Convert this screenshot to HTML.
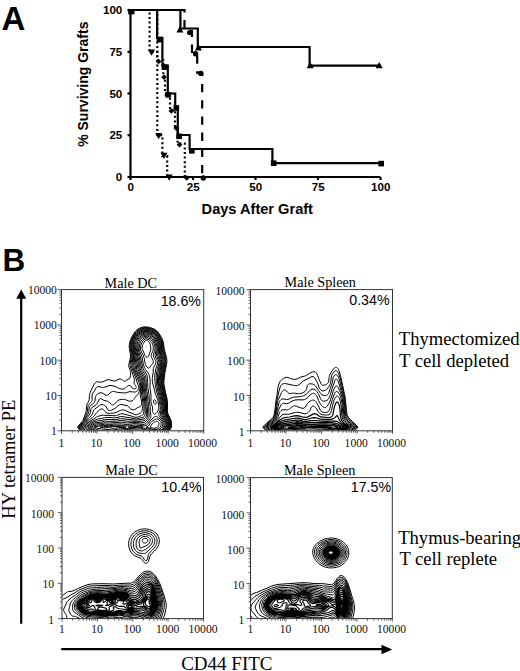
<!DOCTYPE html>
<html><head><meta charset="utf-8"><style>
html,body{margin:0;padding:0;background:#fff;}
svg{display:block;}
</style></head><body>
<svg width="520" height="671" viewBox="0 0 520 671">
<rect width="520" height="671" fill="#fff"/>
<g stroke="#000" stroke-width="2.2" fill="none">
<path d="M130.5 9.0V177.0H380.5"/>
<path d="M127.5 177.0H130.5"/>
<path d="M127.5 135.2H130.5"/>
<path d="M127.5 93.5H130.5"/>
<path d="M127.5 51.8H130.5"/>
<path d="M127.5 10.0H130.5"/>
<path d="M130.5 177.0V180.0"/>
<path d="M193.0 177.0V180.0"/>
<path d="M255.5 177.0V180.0"/>
<path d="M318.0 177.0V180.0"/>
<path d="M380.5 177.0V180.0"/>
</g>
<path d="M130.5 10.0H157.1V37.8H162.4V65.7H167.8V93.5H175.2V106.8H177.8V135.0H189.6V149.0H272.4V163.1H380.5" stroke="#000" stroke-width="2.2" fill="none"/>
<path d="M130.5 10.0H180.4V28.5H197.8V47.0H309.6V65.7H380.5" stroke="#000" stroke-width="2.2" fill="none"/>
<path d="M130.5 10.0H149.6V51.8H157.3V135.2H162.4V156.1H167.2V177.0" stroke="#000" stroke-width="2.2" fill="none" stroke-dasharray="2 2.6" stroke-dashoffset="1.5"/>
<path d="M130.5 10.0H157.3V60.1H163.3V76.8H165.0V93.5H170.0V110.2H175.0V126.9H177.6V143.6H184.8V177.0" stroke="#000" stroke-width="2.2" fill="none" stroke-dasharray="2 2.6" stroke-dashoffset="1.5"/>
<path d="M130.5 10.0H184.5V30.9H192.0V51.8H197.2V72.6H202.2" stroke="#000" stroke-width="2.2" fill="none" stroke-dasharray="8.5 7.5"/>
<path d="M202.2 72.6V177" stroke="#000" stroke-width="2.2" fill="none" stroke-dasharray="8.3 7.9" stroke-dashoffset="4.8"/>
<g fill="#000">
<rect x="128.2" y="9.2" width="6.2" height="5.2"/>
<rect x="156.7" y="36.8" width="5.6" height="5.6"/>
<rect x="161.7" y="64.3" width="5.6" height="5.6"/>
<rect x="165.5" y="92.0" width="5.6" height="5.6"/>
<rect x="173.5" y="105.2" width="5.6" height="5.6"/>
<rect x="176.3" y="133.5" width="5.6" height="5.6"/>
<rect x="189.0" y="148.0" width="5.6" height="5.6"/>
<rect x="270.9" y="160.4" width="5.6" height="5.6"/>
<rect x="378.4" y="160.8" width="5.6" height="5.6"/>
<path d="M179.9 26.1L183.4 32.4L176.4 32.4Z"/>
<path d="M198.4 44.1L201.9 50.4L194.9 50.4Z"/>
<path d="M310.2 61.9L313.7 68.2L306.7 68.2Z"/>
<path d="M379.2 61.9L382.7 68.2L375.7 68.2Z"/>
<path d="M151.5 55.8L155.0 49.5L148.0 49.5Z"/>
<path d="M158.7 139.3L162.2 133.0L155.2 133.0Z"/>
<path d="M164.0 159.1L167.5 152.8L160.5 152.8Z"/>
<path d="M169.2 180.8L172.7 174.4L165.7 174.4Z"/>
<path d="M158.6 58.7L161.4 61.5L158.6 64.3L155.8 61.5Z"/>
<path d="M164.0 74.4L166.8 77.2L164.0 80.0L161.2 77.2Z"/>
<path d="M167.0 92.2L169.8 95.0L167.0 97.8L164.2 95.0Z"/>
<path d="M171.3 108.2L174.1 111.0L171.3 113.8L168.5 111.0Z"/>
<path d="M176.3 125.5L179.1 128.3L176.3 131.1L173.5 128.3Z"/>
<path d="M179.5 141.9L182.3 144.7L179.5 147.5L176.7 144.7Z"/>
<path d="M186.7 175.2L189.5 178.0L186.7 180.8L183.9 178.0Z"/>
<circle cx="189.7" cy="32.6" r="2.7"/>
<circle cx="195.6" cy="53.7" r="2.7"/>
<circle cx="200.8" cy="73.4" r="2.7"/>
<circle cx="203.3" cy="178.0" r="2.7"/>
</g>
<g font-family="Liberation Sans, sans-serif" font-weight="bold" fill="#000">
<text x="1.5" y="29.6" font-size="33">A</text>
<text x="122.3" y="14.1" font-size="11.6" text-anchor="end">100</text>
<text x="122.3" y="55.9" font-size="11.6" text-anchor="end">75</text>
<text x="122.3" y="97.6" font-size="11.6" text-anchor="end">50</text>
<text x="122.3" y="139.3" font-size="11.6" text-anchor="end">25</text>
<text x="122.3" y="181.1" font-size="11.6" text-anchor="end">0</text>
<text x="130.7" y="191.2" font-size="11.6" text-anchor="middle">0</text>
<text x="193.2" y="191.2" font-size="11.6" text-anchor="middle">25</text>
<text x="255.7" y="191.2" font-size="11.6" text-anchor="middle">50</text>
<text x="318.2" y="191.2" font-size="11.6" text-anchor="middle">75</text>
<text x="380.7" y="191.2" font-size="11.6" text-anchor="middle">100</text>
<text x="257.3" y="213.8" font-size="14.6" text-anchor="middle">Days After Graft</text>
<text transform="translate(87.9 84.2) rotate(-90)" font-size="14" text-anchor="middle">% Surviving Grafts</text>
</g>
<defs>
<clipPath id="cp1"><rect x="62.0" y="290.1" width="141.2" height="140.2"/></clipPath>
<clipPath id="cp2"><rect x="251.0" y="290.1" width="141.0" height="140.2"/></clipPath>
<clipPath id="cp3"><rect x="62.5" y="477.9" width="140.5" height="140.2"/></clipPath>
<clipPath id="cp4"><rect x="251.0" y="478.1" width="140.8" height="140.0"/></clipPath>
</defs>
<g clip-path="url(#cp1)" fill="none" stroke="#000" stroke-linejoin="round"><path d="M95.9 436.6L94.3 435.1L93.0 434.1L91.5 433.1L87.0 430.4L85.5 429.1L83.5 427.1L86.1 425.1L89.0 422.1L90.0 421.2L91.0 420.5L93.5 419.1L96.5 417.1L97.5 416.5L99.5 415.9L102.0 415.3L103.5 415.2L114.0 415.7L115.5 415.7L116.5 415.5L117.5 415.2L120.5 413.9L122.0 413.7L123.0 413.8L126.0 414.7L130.0 415.5L134.0 417.0L135.0 417.3L136.0 417.3L137.5 417.1L141.5 415.6L142.5 415.1L143.0 414.6L143.3 414.1L143.7 413.1L143.9 411.1L144.0 404.1L143.8 401.6L142.9 395.6L142.7 393.1L142.5 389.6L142.5 384.6L142.3 382.6L141.9 380.6L141.0 377.8L140.0 375.7L137.7 371.6L137.2 370.6L136.8 369.1L135.5 361.1L135.0 355.6L133.7 348.1L133.5 346.1L133.5 344.6L133.6 343.1L133.8 342.1L134.3 340.6L134.8 339.6L135.7 338.1L136.7 336.6L138.3 334.6L139.0 334.0L140.0 333.2L142.0 332.2L144.0 331.5L146.0 331.3L148.0 331.5L149.5 331.9L150.5 332.2L153.0 333.4L154.6 334.6L155.9 336.1L156.9 337.6L158.9 341.6L159.3 342.6L159.7 344.1L160.0 346.1L160.5 354.1L161.0 356.1L162.2 359.6L162.4 361.6L162.2 364.1L161.1 369.6L160.8 372.1L160.1 381.6L160.1 384.1L161.1 390.1L161.5 391.9L162.8 396.6L163.5 400.9L164.3 405.1L164.5 407.6L164.2 412.1L164.3 413.6L164.5 414.6L165.0 415.6L166.7 418.6L167.4 420.1L167.9 421.6L168.1 423.6L168.1 425.1L167.8 427.1L167.2 428.1L166.2 429.6L165.0 431.0L164.0 431.9L162.5 432.9L159.5 434.4L157.5 435.1L155.5 435.4L150.0 435.8L148.5 436.1L146.9 436.6M94.1 436.6L93.2 435.6L91.9 434.6L90.4 433.6L87.0 431.8L86.0 431.0L85.0 430.1L82.1 427.1L84.7 425.1L85.8 424.1L86.7 423.1L88.5 420.8L89.5 419.7L90.5 418.9L92.5 417.6L93.5 416.7L94.5 415.6L96.0 413.5L97.0 412.3L99.3 410.1L100.5 409.2L101.5 408.9L102.0 408.9L102.5 409.0L103.0 409.2L103.9 410.1L105.0 411.6L106.0 412.5L107.0 413.1L108.0 413.3L109.0 413.4L110.5 413.3L113.3 413.1L115.0 412.8L116.5 412.4L119.5 410.8L120.5 410.4L122.0 410.0L123.5 409.9L125.0 410.3L128.0 411.8L132.0 413.3L134.5 414.5L135.0 414.7L136.0 414.8L137.0 414.6L137.5 414.4L140.5 412.9L141.4 412.1L142.0 411.1L142.2 410.1L142.5 408.3L142.9 404.6L142.9 403.1L142.7 401.1L141.9 396.1L141.6 394.1L141.6 391.6L141.6 385.6L141.5 383.4L141.0 381.1L140.5 379.7L139.0 376.3L136.8 372.1L136.2 370.6L135.6 368.6L134.6 363.1L134.4 361.1L134.4 357.6L134.2 355.6L134.0 353.8L132.9 347.6L132.7 346.1L132.7 344.6L132.8 343.6L133.1 342.1L133.6 340.6L134.0 339.6L134.9 338.1L135.8 336.6L137.0 335.0L138.0 333.8L139.0 332.9L140.0 332.2L142.0 331.3L144.0 330.7L146.0 330.5L148.5 330.8L150.5 331.4L153.0 332.5L154.0 333.1L155.0 333.8L156.2 335.1L157.2 336.6L159.3 340.6L160.2 343.1L160.6 345.6L161.0 350.9L161.4 354.1L161.9 356.1L162.9 359.1L163.2 360.6L163.2 361.6L163.1 363.6L162.0 368.8L161.5 372.1L161.2 377.6L160.8 381.6L160.8 384.1L162.0 390.8L163.7 397.6L164.8 404.1L165.0 406.6L164.9 411.6L165.0 413.6L165.5 415.1L167.4 418.6L168.1 420.1L168.5 421.6L168.7 423.1L168.7 425.1L168.4 427.1L167.6 428.6L166.9 429.6L166.2 430.6L165.0 431.8L163.5 432.9L162.0 433.8L159.0 435.3L157.0 435.9L152.8 436.6M92.3 436.6L91.5 435.7L90.7 435.1L89.9 434.6L87.0 433.1L85.5 432.1L84.0 430.6L81.0 427.1L82.0 426.1L85.0 423.6L86.2 422.1L88.5 418.5L89.5 417.3L90.9 416.1L91.8 415.1L92.6 413.6L93.3 411.1L93.5 410.6L94.0 409.8L94.7 409.1L97.0 407.4L99.5 405.4L100.5 404.8L101.0 404.7L102.0 404.6L103.5 404.9L104.5 405.3L105.5 406.0L106.1 406.6L107.3 409.1L108.0 410.0L108.5 410.3L109.5 410.5L110.5 410.4L111.5 410.2L113.8 409.1L116.0 407.6L119.0 405.1L119.5 404.8L120.5 404.5L122.0 404.6L126.0 405.4L127.0 405.6L127.9 406.1L128.5 406.6L130.0 408.3L130.9 409.1L132.0 409.7L133.0 409.8L134.0 409.8L135.0 409.4L137.5 407.6L139.5 406.9L140.0 406.7L140.5 406.3L141.0 405.6L141.5 404.3L141.6 402.6L141.5 401.1L140.6 397.1L140.3 395.1L140.4 393.1L140.8 387.1L140.6 384.1L140.2 382.1L139.5 380.3L138.0 376.8L136.1 373.1L135.3 371.1L134.3 368.1L133.7 365.6L133.4 364.1L133.3 362.6L133.5 358.1L133.5 355.6L133.0 352.6L132.2 348.1L132.0 346.1L132.0 344.6L132.2 343.1L132.4 342.1L133.3 339.6L134.1 338.1L135.3 336.1L136.5 334.4L137.5 333.2L139.0 331.9L141.0 330.8L142.0 330.4L143.5 329.9L145.5 329.7L147.5 329.9L149.5 330.3L151.5 331.0L153.5 331.9L155.0 332.8L155.9 333.6L156.7 334.6L157.7 336.1L159.8 340.1L160.8 342.6L161.2 344.6L161.5 349.1L162.1 353.1L162.5 355.1L163.6 358.6L163.9 360.1L164.0 361.6L163.8 363.6L162.6 369.6L162.2 372.6L161.8 378.1L161.5 381.6L161.5 384.1L163.0 392.1L164.3 397.1L165.3 403.1L165.6 406.1L165.4 411.1L165.6 413.1L166.0 414.6L168.1 418.6L168.9 420.6L169.3 422.6L169.3 425.1L169.1 427.1L168.8 427.6L167.3 430.1L166.0 431.6L164.5 432.9L163.0 433.9L159.5 435.8L157.5 436.6M90.3 436.6L89.0 435.7L86.5 434.3L85.0 433.1L84.0 432.0L80.0 427.1L81.0 426.0L83.7 423.6L84.6 422.6L85.6 421.1L87.5 417.4L89.8 414.1L90.4 412.6L90.8 409.6L91.0 408.9L91.4 408.1L92.0 407.4L95.0 405.7L96.3 404.6L97.4 403.1L99.5 399.0L99.9 398.6L100.5 398.4L101.0 398.6L103.0 399.9L104.0 400.4L105.0 400.7L107.5 401.2L108.5 401.6L109.5 402.3L111.0 404.1L111.5 404.6L112.0 404.8L112.5 404.9L113.0 404.9L113.8 404.6L114.5 404.1L115.0 403.6L116.7 401.6L117.5 400.8L118.5 400.2L120.0 399.7L122.5 399.4L124.5 399.4L125.5 399.6L128.0 400.7L129.5 401.2L131.0 401.2L132.0 400.9L133.0 400.2L133.6 399.6L134.3 398.6L135.2 397.1L135.6 396.6L137.5 395.0L138.0 394.3L138.5 393.3L139.0 392.0L139.6 389.6L139.8 387.1L139.7 385.1L139.5 384.1L139.0 382.5L137.0 377.5L134.8 372.6L132.8 367.1L132.4 365.6L132.2 363.6L132.7 358.1L132.7 355.6L132.5 353.5L131.4 347.6L131.2 345.6L131.3 344.1L131.9 341.6L132.4 340.1L133.1 338.6L135.2 335.1L136.3 333.6L137.1 332.6L138.5 331.4L139.5 330.7L141.0 329.9L143.0 329.2L144.5 329.0L145.5 329.0L148.0 329.2L150.0 329.7L152.0 330.4L154.0 331.3L155.5 332.3L156.4 333.1L157.2 334.1L158.2 335.6L160.4 339.6L161.3 342.1L161.7 344.1L162.3 349.6L163.0 353.6L163.5 355.6L164.3 358.1L164.7 360.1L164.7 361.6L164.6 363.1L164.3 365.1L163.5 368.6L163.0 372.1L162.5 377.6L162.1 381.6L162.1 383.6L162.4 386.1L163.5 391.5L164.9 397.1L165.8 402.1L166.1 405.6L166.0 411.1L166.2 413.1L166.5 414.1L166.9 415.1L168.7 418.6L169.3 420.1L169.7 421.6L169.9 422.6L169.9 424.1L169.8 425.6L169.7 427.1L169.2 428.1L167.9 430.1L166.5 431.8L165.5 432.8L164.0 433.9L162.5 434.9L159.4 436.6M87.2 436.6L85.5 435.2L84.5 434.1L79.1 427.1L80.5 425.5L83.4 422.6L84.5 421.1L86.3 417.1L88.0 414.1L88.5 412.9L88.8 411.6L89.2 408.1L89.5 407.0L90.0 406.2L90.5 405.6L93.5 403.6L94.3 402.6L94.9 401.1L95.4 397.6L95.7 396.6L96.0 395.8L96.4 395.1L97.4 394.1L98.0 393.6L99.0 393.1L100.0 392.8L101.0 392.8L102.0 393.0L103.0 393.4L105.0 394.7L106.0 395.2L107.0 395.3L107.7 395.1L108.5 394.6L110.0 393.0L111.0 392.1L111.5 391.9L112.5 391.5L113.5 391.5L114.5 391.6L117.5 392.4L119.0 392.6L123.5 392.9L125.0 392.9L126.5 392.7L129.0 391.8L130.0 391.6L133.5 392.0L134.5 392.0L135.5 391.9L136.5 391.5L137.0 391.2L137.5 390.7L138.0 389.8L138.4 388.6L138.5 387.6L138.5 386.3L138.2 385.1L136.8 381.6L135.9 378.1L133.8 373.1L131.6 367.1L131.2 365.6L131.1 364.6L131.1 363.6L131.9 358.6L132.0 356.1L131.8 353.6L130.7 347.6L130.6 345.6L130.7 344.1L131.2 341.6L131.8 340.1L132.7 338.1L134.7 334.6L135.8 333.1L136.6 332.1L137.5 331.2L138.5 330.5L140.5 329.3L142.0 328.7L143.0 328.5L145.0 328.2L147.0 328.4L149.5 328.8L151.5 329.4L153.5 330.3L154.5 330.8L156.0 331.9L157.2 333.1L158.3 334.6L160.6 338.6L161.3 340.1L161.9 341.6L162.3 343.6L162.9 349.1L163.5 352.2L164.0 354.4L165.1 358.1L165.4 359.6L165.5 361.1L165.3 363.1L164.0 369.8L163.5 373.1L163.2 377.6L162.7 381.6L162.7 383.6L163.0 385.8L164.1 391.1L164.5 393.2L165.8 398.1L166.3 401.1L166.6 405.1L166.5 410.6L166.7 412.6L166.9 413.6L167.2 414.6L169.3 418.6L169.9 420.1L170.2 421.6L170.4 422.6L170.5 424.1L170.4 426.1L170.3 427.1L169.8 428.1L168.2 430.6L167.0 432.1L166.0 433.1L164.5 434.3L160.8 436.6M85.0 436.6L81.0 430.8L78.3 427.1L79.9 425.1L82.8 422.1L83.5 421.1L84.0 420.1L85.4 416.6L87.2 412.6L87.5 411.1L87.8 407.1L88.2 405.6L89.0 404.3L91.2 402.1L91.5 401.6L92.0 400.6L92.2 399.1L92.0 396.0L92.1 395.1L92.4 394.1L93.0 392.9L94.6 390.6L95.9 388.1L96.5 387.3L97.0 386.9L97.5 386.7L98.0 386.6L99.0 386.7L101.5 387.3L102.5 387.4L103.5 387.4L105.0 387.1L109.0 385.6L110.0 385.5L111.0 385.5L113.0 385.8L115.0 386.3L116.0 386.8L118.5 388.1L120.0 388.7L121.5 389.0L123.0 389.1L124.0 388.9L124.7 388.6L125.3 388.1L126.8 386.6L127.5 386.0L128.5 385.5L129.0 385.5L129.9 385.6L130.5 385.9L132.3 388.1L133.0 388.6L133.5 388.8L134.5 389.0L135.0 388.9L135.6 388.6L136.0 388.1L136.2 387.6L136.2 387.1L136.0 386.4L135.5 385.6L134.7 384.6L134.1 383.6L134.1 382.6L134.4 380.1L134.3 379.1L134.1 378.1L132.8 374.6L131.5 370.1L130.3 367.1L130.0 365.6L130.0 364.6L130.1 363.6L131.0 358.9L131.2 356.1L131.0 353.1L130.2 349.1L129.9 347.1L129.9 345.6L130.0 344.1L130.3 342.6L130.8 341.1L131.3 339.6L132.2 337.6L134.3 334.1L135.3 332.6L136.1 331.6L137.0 330.7L138.0 329.9L140.0 328.8L141.0 328.3L142.5 327.8L143.5 327.7L145.0 327.6L147.5 327.7L150.0 328.2L152.0 328.9L154.0 329.8L155.0 330.3L156.5 331.4L157.6 332.6L158.7 334.1L160.3 336.6L161.3 338.6L162.4 341.1L162.9 343.1L163.5 348.3L164.0 351.0L165.0 355.1L165.7 357.6L166.0 359.1L166.2 360.6L166.1 362.6L165.8 364.6L164.5 371.0L164.1 373.6L163.3 381.6L163.3 383.6L163.5 385.2L164.2 388.6L165.0 392.8L166.2 397.6L166.8 400.6L167.1 404.6L167.0 410.6L167.2 412.6L167.6 414.1L168.0 415.1L169.8 418.6L170.2 419.6L170.7 421.1L170.8 422.1L171.0 423.6L170.9 427.1L170.1 428.6L169.2 430.1L167.2 432.6L166.0 433.8L165.0 434.6L162.0 436.6M83.7 436.6L81.0 432.0L77.5 427.1L79.0 425.1L82.1 421.6L83.0 420.2L83.5 419.0L86.0 412.1L86.3 410.6L86.5 406.6L86.8 405.1L87.4 403.6L88.7 401.1L89.1 400.1L89.3 399.1L89.4 395.6L89.8 393.6L90.3 392.1L91.0 390.6L94.2 384.1L94.9 383.1L95.4 382.6L96.0 382.2L96.5 381.9L97.5 381.8L100.0 382.2L101.5 382.1L103.0 381.7L106.5 380.1L108.0 379.7L109.5 379.8L113.0 380.9L114.5 381.0L116.0 380.6L119.0 379.1L120.0 379.0L120.7 379.1L121.5 379.4L122.5 380.1L123.5 381.0L124.0 381.2L124.5 381.2L125.5 380.8L129.0 378.8L129.9 378.1L130.3 377.1L130.5 375.8L130.6 374.1L130.6 372.6L130.5 371.6L130.2 370.6L129.0 367.1L128.7 365.6L128.9 364.1L130.1 359.1L130.5 356.1L130.3 353.6L129.4 348.6L129.2 346.6L129.3 344.6L129.8 342.1L130.9 339.1L132.3 336.1L134.2 333.1L135.2 331.6L136.1 330.6L137.0 329.8L138.0 329.1L139.5 328.2L140.5 327.8L142.0 327.3L143.0 327.0L145.0 326.9L147.0 327.0L149.5 327.4L151.5 328.0L154.0 329.0L155.5 329.8L156.5 330.6L158.0 332.1L159.1 333.6L161.2 337.1L162.2 339.1L162.8 340.6L163.4 342.6L164.0 347.2L164.5 349.9L166.7 358.6L166.9 360.6L166.8 362.6L166.4 365.1L165.0 372.1L164.7 374.1L163.9 381.1L163.9 383.6L164.0 384.6L164.8 388.6L165.5 392.5L166.8 397.6L167.2 400.1L167.5 404.1L167.4 410.1L167.6 412.1L168.0 413.9L168.5 415.1L170.3 418.6L170.7 419.6L171.2 421.1L171.3 422.1L171.5 423.6L171.5 427.1L170.7 428.6L169.8 430.1L167.9 432.6L166.0 434.5L163.1 436.6" stroke-width="1.0"/>
<path d="M146.0 346.2L146.0 346.0L146.0 346.2ZM147.5 357.2L147.0 357.3L146.5 357.1L146.0 356.8L145.5 356.3L145.0 355.6L144.6 354.6L143.7 352.1L142.5 349.7L142.1 348.1L142.1 347.1L142.4 345.6L142.8 344.6L143.3 343.6L144.2 342.1L145.0 341.0L145.5 340.6L146.0 340.4L146.5 340.3L147.0 340.4L147.5 340.6L148.0 340.9L148.7 341.6L149.7 343.1L150.2 344.1L150.4 345.1L150.8 348.1L150.8 349.1L150.7 350.1L149.6 353.1L149.0 355.1L148.5 356.1L148.2 356.6L148.0 356.9L147.5 357.2ZM155.0 428.2L154.0 428.2L152.5 428.0L151.5 427.7L150.0 427.1L150.8 426.1L152.0 424.0L152.5 423.4L153.5 422.6L154.5 422.0L155.5 421.6L156.5 421.5L157.5 421.6L158.3 422.1L158.7 422.6L158.9 423.1L159.0 424.1L158.6 425.6L157.8 427.1L156.5 427.8L155.0 428.2ZM149.0 368.2L148.5 368.2L148.0 368.0L147.0 367.2L146.0 365.7L145.5 364.7L144.9 362.6L144.4 359.1L144.0 357.6L142.9 354.6L141.1 351.1L140.8 350.1L140.6 349.1L140.6 347.1L140.8 345.6L141.2 344.1L141.9 342.6L142.8 341.1L143.7 340.1L145.0 339.2L146.0 338.8L147.0 338.9L148.0 339.2L149.4 340.1L151.0 341.6L151.8 342.6L152.5 344.1L153.0 345.6L153.3 347.6L153.3 349.1L153.2 350.1L152.9 351.1L151.5 354.1L151.2 355.6L151.3 356.6L151.6 357.6L153.2 360.6L153.3 361.6L153.3 362.1L153.0 363.1L152.7 363.6L150.7 366.1L149.5 367.8L149.0 368.2ZM155.5 404.4L155.0 404.3L154.5 404.0L154.0 403.4L153.6 402.6L153.5 402.1L153.4 401.1L153.5 400.6L154.0 399.9L154.5 399.8L155.0 400.0L155.5 400.5L156.0 401.6L156.2 402.6L156.1 403.6L155.9 404.1L155.5 404.4ZM157.0 429.2L156.0 429.4L155.0 429.5L153.0 429.4L151.0 428.8L148.0 427.6L146.1 427.1L147.5 426.7L148.3 426.1L149.0 425.3L150.0 423.6L150.7 422.6L151.7 421.6L153.0 420.5L154.5 419.7L155.5 419.3L156.5 419.1L157.5 419.2L158.0 419.4L159.0 420.0L160.1 421.1L160.5 421.6L161.0 422.6L161.1 423.1L161.2 424.1L160.9 425.6L160.3 427.1L159.5 427.8L158.5 428.5L157.0 429.2ZM115.5 428.1L114.0 428.3L113.0 428.3L109.5 427.7L108.5 427.6L105.0 427.8L103.5 427.7L102.0 427.5L100.0 427.1L103.5 426.6L105.0 426.6L109.0 426.8L114.0 426.3L122.0 426.7L126.0 427.1L122.0 427.5L118.5 427.7L115.5 428.1ZM140.0 427.7L137.5 427.7L128.1 427.1L134.0 426.6L137.0 426.5L139.5 426.6L143.3 427.1L140.0 427.7ZM155.5 413.8L155.0 414.0L154.5 414.1L154.0 413.9L153.5 413.5L152.8 412.6L152.5 411.6L152.4 410.6L152.6 408.1L152.5 407.1L151.2 403.1L150.9 401.1L151.0 395.1L150.0 387.6L150.0 385.6L150.2 382.1L149.7 377.1L149.4 375.6L148.8 374.1L148.2 373.1L145.5 369.6L144.9 368.6L144.4 367.6L143.8 365.6L143.2 363.1L141.9 356.6L141.4 355.1L140.0 352.1L139.7 351.1L139.4 349.6L139.3 347.1L139.5 345.1L139.9 343.6L140.7 341.6L141.6 340.1L143.0 338.8L144.5 337.9L146.0 337.5L146.5 337.5L147.5 337.7L149.0 338.3L150.5 339.2L152.0 340.6L153.1 342.1L153.9 343.6L154.4 345.1L154.9 347.1L155.0 348.6L154.8 350.1L154.5 351.3L153.6 354.1L153.4 355.6L153.8 357.1L155.1 359.6L155.5 360.6L155.8 361.6L155.8 362.6L155.5 364.1L155.0 365.1L153.8 367.1L153.3 368.6L153.2 372.6L152.4 377.1L152.3 378.6L152.3 381.1L152.6 383.1L154.0 387.9L155.2 393.1L155.9 395.1L157.4 399.1L157.8 400.6L158.6 405.1L158.8 407.1L158.8 408.1L158.6 409.1L158.0 410.6L157.0 412.3L156.0 413.5L155.5 413.8ZM157.5 430.2L156.5 430.4L155.5 430.6L154.5 430.6L153.0 430.4L151.0 430.0L147.3 428.6L146.0 428.3L145.0 428.3L143.5 428.4L140.5 428.9L139.0 429.0L128.5 428.4L126.0 428.4L118.5 429.0L114.0 429.9L112.0 430.0L108.0 429.5L103.5 429.2L101.5 429.0L96.0 427.8L93.8 427.1L95.0 426.7L96.0 426.5L103.5 425.5L105.5 425.5L108.0 425.7L109.5 425.7L114.0 425.2L121.5 425.4L125.0 425.8L127.0 425.9L129.5 425.7L133.5 425.2L135.5 425.1L138.5 425.3L143.0 425.8L145.0 425.8L146.0 425.5L147.0 424.9L147.8 424.1L150.0 421.1L152.0 419.0L154.0 417.2L154.5 416.9L155.5 416.5L156.5 416.7L157.5 417.1L158.5 417.7L160.0 418.9L161.0 420.0L161.8 421.1L162.3 422.1L162.7 423.6L162.7 425.1L162.1 427.1L161.1 428.1L160.0 429.0L158.5 429.8L157.5 430.2ZM157.5 431.2L155.5 431.5L153.0 431.4L151.0 431.0L147.5 429.9L145.5 429.6L144.0 429.7L141.0 430.2L139.0 430.3L137.5 430.3L134.0 430.0L127.0 429.6L125.5 429.7L118.5 430.4L113.0 431.5L111.5 431.6L109.5 431.5L101.0 430.5L99.5 430.2L96.5 429.3L94.5 428.7L92.5 427.8L91.4 427.1L93.0 426.1L94.0 425.7L95.0 425.4L96.5 425.2L100.0 424.9L104.5 424.2L106.0 424.2L108.5 424.5L109.5 424.5L114.0 424.0L117.5 424.0L121.0 423.9L122.5 424.0L126.0 424.4L127.5 424.5L129.5 424.3L133.0 423.8L135.0 423.7L137.0 423.8L142.0 424.4L144.0 424.3L144.8 424.1L145.5 423.8L146.5 423.0L148.5 420.7L150.0 418.6L150.8 417.1L150.9 416.6L150.9 415.6L150.3 411.6L150.2 406.6L149.4 401.6L149.0 394.6L147.9 387.6L147.7 382.6L147.2 376.1L147.0 375.1L146.5 374.1L145.9 373.1L143.8 370.1L143.3 369.1L142.9 368.1L141.2 360.6L140.4 356.6L138.7 351.6L138.4 350.1L138.2 348.6L138.2 345.6L138.5 343.6L139.2 341.6L140.0 340.1L141.2 338.6L142.5 337.5L144.0 336.8L145.0 336.4L146.0 336.3L147.5 336.3L149.0 336.9L150.5 337.7L151.5 338.4L152.2 339.1L153.7 341.1L154.9 343.1L155.7 345.1L156.0 347.1L156.1 349.6L155.9 351.1L155.2 354.1L155.2 355.6L155.6 357.1L156.8 359.6L157.2 360.6L157.4 361.6L157.5 363.1L157.4 364.1L157.1 365.1L156.0 368.1L155.7 369.1L154.8 375.1L154.7 377.6L155.0 382.6L155.3 384.6L156.5 391.1L158.7 398.6L160.3 406.6L160.3 408.1L160.2 409.1L159.9 410.6L158.9 413.6L158.8 414.6L158.8 415.1L159.0 415.6L159.6 416.6L162.0 419.5L163.1 421.1L163.8 422.6L164.0 424.1L163.9 425.6L163.5 427.1L162.7 428.1L161.6 429.1L160.5 429.9L159.0 430.7L157.5 431.2ZM114.0 432.7L111.5 432.9L108.5 432.9L99.5 431.8L97.0 431.0L94.0 429.8L91.5 428.4L89.7 427.1L92.0 425.3L93.0 424.8L94.5 424.3L96.5 423.9L100.5 423.6L105.0 422.8L106.5 422.8L109.5 423.1L113.0 422.7L117.0 422.6L120.0 422.3L121.5 422.2L123.0 422.3L126.0 422.8L127.5 422.9L134.0 422.5L136.5 422.5L141.0 422.8L143.0 422.7L144.5 422.3L146.0 421.3L147.6 419.6L148.2 418.6L148.7 417.6L149.0 416.6L149.1 415.1L148.6 406.6L148.0 401.6L147.5 394.6L146.4 387.6L146.3 382.6L145.8 377.1L145.5 375.8L145.0 374.6L142.4 370.6L141.9 369.6L141.6 368.6L140.6 363.6L139.8 360.1L139.1 356.6L137.9 352.6L137.6 351.1L137.3 348.6L137.1 345.6L137.2 344.1L137.4 343.1L137.6 342.1L138.1 341.1L138.6 340.1L139.5 338.8L140.0 338.1L141.0 337.2L142.0 336.4L143.0 335.9L145.0 335.2L146.0 335.1L147.0 335.1L148.5 335.4L149.5 335.8L151.0 336.6L152.0 337.4L153.2 338.6L154.2 340.1L155.7 342.6L156.4 344.1L156.9 346.1L157.0 347.6L157.1 349.1L156.9 351.1L156.6 353.6L156.5 355.1L156.9 356.6L158.3 360.1L158.7 361.6L158.8 362.6L158.7 363.6L158.5 365.1L157.4 368.6L157.1 370.1L156.3 375.1L156.2 377.6L156.4 382.6L157.6 390.6L158.0 392.1L159.6 397.6L160.3 402.1L161.4 406.6L161.4 407.6L161.3 409.1L160.4 413.1L160.4 414.6L160.5 415.2L160.9 416.1L163.7 420.1L164.2 421.1L164.7 422.1L165.0 423.1L165.0 424.6L164.9 425.6L164.6 427.1L163.9 428.1L163.0 429.0L161.5 430.3L160.5 430.9L159.0 431.6L158.0 432.0L156.5 432.3L155.0 432.3L153.0 432.2L151.0 431.9L147.5 431.1L146.5 431.0L144.5 431.1L140.0 431.8L137.5 431.9L136.0 431.8L128.5 431.0L126.5 430.9L125.0 431.0L119.0 431.7L114.0 432.7ZM113.0 434.1L110.0 434.3L107.5 434.3L100.5 433.5L98.5 433.0L96.5 432.3L93.0 430.5L90.0 428.6L88.1 427.1L91.0 424.7L92.0 424.0L93.5 423.4L96.0 422.7L101.0 422.2L104.5 421.3L105.5 421.2L106.5 421.2L110.0 421.4L113.0 421.2L116.5 421.1L120.0 420.6L121.5 420.5L123.0 420.6L126.5 421.1L128.0 421.2L131.5 421.2L138.0 421.3L141.0 421.2L142.5 421.1L144.0 420.6L145.0 420.1L145.5 419.7L146.6 418.6L147.0 417.9L147.3 417.1L147.6 416.1L147.7 414.6L147.3 407.1L146.2 394.6L145.3 388.1L145.2 382.6L144.7 378.6L144.5 377.1L143.9 375.6L143.1 374.1L141.2 371.1L140.7 370.1L140.3 368.6L139.5 363.7L138.6 360.1L137.9 356.1L136.7 351.1L136.2 347.6L136.1 344.6L136.3 342.6L136.7 341.6L137.1 340.6L138.7 338.1L139.6 337.1L140.5 336.2L141.5 335.5L142.5 335.0L144.0 334.4L145.0 334.1L146.0 334.0L147.0 334.0L148.0 334.2L149.0 334.5L150.5 335.1L152.0 336.1L153.0 336.9L154.0 338.1L155.3 340.1L156.7 342.6L157.3 344.1L157.7 345.6L157.9 348.6L157.7 353.6L157.8 355.1L158.1 356.6L159.5 360.1L159.7 361.1L159.8 362.6L159.8 363.6L159.5 365.1L158.3 370.1L157.6 375.1L157.5 377.6L157.5 383.1L158.7 390.6L159.0 392.1L160.4 396.6L160.7 398.1L161.2 401.6L162.3 406.6L162.3 408.6L161.6 413.1L161.6 414.6L162.2 416.1L164.8 420.1L165.3 421.1L165.7 422.1L165.9 423.1L165.9 424.6L165.8 425.6L165.5 427.1L164.9 428.1L164.0 429.2L163.0 430.1L162.0 430.9L160.5 431.8L159.5 432.2L158.0 432.7L157.0 433.0L155.5 433.1L153.5 433.1L148.0 432.4L146.0 432.4L144.0 432.6L138.0 433.9L136.5 434.0L135.0 433.9L129.0 432.5L127.5 432.3L126.0 432.3L119.1 433.1L115.0 433.9L113.0 434.1ZM138.0 436.1L136.5 436.3L135.5 436.2L130.0 434.4L128.0 433.9L126.5 433.8L125.0 433.8L123.5 434.0L118.8 434.6L114.5 435.4L111.0 435.7L107.0 435.7L100.0 435.0L99.0 434.8L97.5 434.2L94.0 432.3L89.0 429.1L87.7 428.1L86.6 427.1L90.5 423.7L92.0 422.8L93.0 422.3L94.5 421.7L96.5 421.2L98.0 420.9L101.0 420.5L105.5 419.5L107.0 419.4L110.5 419.6L115.5 419.5L117.0 419.3L120.5 418.7L122.0 418.7L126.0 419.2L130.0 419.5L134.0 420.0L136.5 420.1L138.5 419.9L143.0 419.2L144.5 418.6L145.5 417.6L146.0 416.6L146.4 415.1L146.4 413.6L146.4 411.1L145.8 402.1L145.0 394.2L144.3 388.6L144.2 383.6L144.0 380.8L143.5 378.1L143.0 376.6L142.0 374.6L139.9 371.1L139.2 369.1L138.5 364.4L137.5 360.1L136.9 356.1L135.7 350.6L135.3 347.1L135.1 344.6L135.4 342.6L135.6 341.6L136.1 340.6L137.6 338.1L138.5 336.9L139.5 335.8L141.0 334.7L143.0 333.7L145.0 333.1L146.0 333.0L147.0 333.0L148.5 333.3L150.0 333.8L152.0 334.9L153.6 336.1L154.8 337.6L156.3 340.1L157.6 342.6L158.3 344.6L158.5 346.1L158.7 348.1L158.7 353.1L158.7 354.6L159.1 356.1L160.3 359.6L160.7 361.1L160.8 362.1L160.6 364.1L159.4 369.6L158.9 373.6L158.6 376.1L158.5 380.6L158.5 383.6L159.5 390.2L160.0 392.3L161.3 396.6L162.0 401.5L163.0 406.1L163.1 407.1L163.1 408.6L162.5 413.1L162.7 414.6L163.3 416.1L165.2 419.1L166.2 421.1L166.7 423.1L166.7 424.6L166.3 427.1L165.4 428.6L164.6 429.6L163.5 430.6L162.5 431.4L161.0 432.3L159.5 433.0L158.0 433.5L156.5 433.8L155.5 433.9L153.0 433.8L148.5 433.6L146.5 433.7L144.5 434.1L142.7 434.6L138.0 436.1ZM98.7 436.6L97.5 436.0L94.1 433.6L88.0 429.7L86.5 428.5L85.0 427.1L87.0 425.6L90.0 422.7L91.0 422.0L92.5 421.2L97.0 419.3L98.5 418.9L101.5 418.5L104.5 417.7L106.0 417.5L107.5 417.4L113.5 417.8L115.5 417.7L117.0 417.5L120.5 416.6L122.0 416.5L126.0 417.2L130.0 417.7L134.0 418.7L135.5 418.8L136.5 418.8L138.0 418.6L143.0 417.3L143.5 417.1L144.0 416.7L144.5 416.1L144.7 415.6L145.1 414.1L145.2 412.1L145.0 404.6L144.7 401.1L143.5 390.1L143.3 388.1L143.3 384.1L143.1 381.6L142.6 379.1L141.9 377.1L141.0 375.2L138.9 371.6L138.1 369.6L137.8 368.1L137.4 364.6L136.4 360.1L135.8 355.1L134.7 349.1L134.4 346.6L134.3 344.6L134.5 342.6L134.8 341.6L135.2 340.6L135.7 339.6L136.6 338.1L137.7 336.6L138.5 335.6L140.0 334.3L141.5 333.4L142.5 332.9L144.5 332.3L146.5 332.1L148.5 332.4L151.0 333.3L153.0 334.4L154.4 335.6L155.6 337.1L157.3 340.1L158.3 342.1L158.9 344.1L159.3 346.6L159.6 353.1L159.7 354.6L160.1 356.1L161.3 359.6L161.6 361.1L161.6 362.1L161.4 364.6L160.4 369.1L159.9 372.1L159.3 381.1L159.3 382.6L159.4 384.1L160.4 390.6L162.1 396.6L162.8 401.6L163.7 405.6L163.8 408.1L163.4 412.1L163.4 413.1L163.5 414.1L164.1 415.6L166.1 419.1L166.8 420.6L167.4 422.6L167.4 424.6L167.1 427.1L166.2 428.6L165.4 429.6L164.5 430.6L163.5 431.5L162.0 432.5L160.5 433.3L158.5 434.1L156.5 434.5L154.0 434.7L149.5 434.7L147.5 434.9L145.0 435.6L142.3 436.6M131.1 436.6L129.5 436.1L128.0 435.8L125.5 435.5L123.5 435.6L121.5 435.8L119.5 436.1L117.2 436.6" stroke-width="1.0"/>
</g>
<g clip-path="url(#cp2)" fill="none" stroke="#000" stroke-linejoin="round"><path d="M279.2 436.6L276.5 433.1L274.7 431.1L273.0 429.6L269.6 427.1L273.3 424.1L275.5 422.1L278.4 419.1L281.0 416.0L282.0 415.0L283.0 414.4L284.0 414.2L287.5 414.3L289.5 414.1L291.0 413.7L294.0 412.7L295.5 412.4L296.5 412.3L298.0 412.3L299.5 412.5L301.0 412.8L304.0 413.8L305.0 413.9L306.0 413.7L306.5 413.6L307.5 413.0L308.1 412.6L309.0 411.7L310.1 410.1L311.0 407.8L311.5 406.9L312.0 406.4L312.5 406.2L313.0 406.1L314.0 406.3L314.5 406.6L315.5 407.5L316.5 408.8L318.3 411.6L319.0 412.6L320.0 413.6L321.0 414.3L322.5 414.8L325.5 415.0L327.5 415.0L329.0 414.7L330.0 414.1L330.5 413.4L331.0 412.4L331.5 410.6L332.9 404.1L333.7 401.1L334.5 399.0L335.0 398.0L335.5 397.1L336.0 396.6L336.5 396.2L337.0 396.1L337.5 396.2L338.0 396.5L338.5 396.9L339.0 397.6L339.5 398.7L340.1 400.6L340.7 403.6L341.3 408.1L341.9 416.1L342.3 418.1L342.9 419.6L343.8 421.1L345.2 422.6L347.0 424.1L351.1 427.1L349.5 428.4L348.0 429.4L341.7 433.1L336.7 436.6M277.4 436.6L276.6 435.1L275.7 433.6L274.9 432.6L274.0 431.6L272.9 430.6L269.5 428.2L268.1 427.1L273.7 422.6L274.8 421.6L276.1 420.1L277.2 418.6L278.0 417.1L279.5 412.5L280.0 411.6L281.0 410.6L282.0 410.0L283.0 409.8L284.0 409.7L286.5 409.9L287.5 409.9L288.4 409.6L289.5 409.0L292.5 406.5L293.5 406.0L294.5 405.8L295.0 405.8L296.0 406.0L299.0 407.3L301.3 408.1L303.0 408.3L304.0 408.1L304.5 407.8L305.2 407.1L307.4 403.6L308.8 402.1L310.0 401.3L311.5 400.4L312.5 400.1L313.5 400.1L314.5 400.4L315.0 400.8L315.5 401.2L316.5 402.5L318.0 405.1L320.0 409.6L320.5 410.4L321.0 411.1L322.0 411.8L322.6 412.1L323.5 412.3L325.5 412.5L327.0 412.3L328.0 411.8L328.5 411.4L329.0 410.8L329.3 410.1L329.8 408.6L330.7 405.1L332.3 399.6L333.5 396.0L334.3 394.1L335.0 392.7L335.5 392.0L336.0 391.6L336.5 391.4L337.0 391.4L337.5 391.7L338.0 392.1L339.0 393.4L340.1 395.6L341.0 398.1L341.6 401.1L342.3 406.6L343.0 415.6L343.4 417.6L344.0 419.1L344.9 420.6L346.2 422.1L347.9 423.6L352.5 427.1L351.0 428.4L349.0 429.9L343.0 433.6L340.9 435.1L339.1 436.6M276.2 436.6L275.5 435.1L275.0 434.1L274.3 433.1L273.5 432.3L272.1 431.1L269.0 428.9L266.8 427.1L273.5 421.7L274.5 420.6L275.6 419.1L276.2 418.1L276.8 416.6L277.8 412.1L278.5 410.0L281.0 404.9L281.5 404.2L282.0 403.7L282.5 403.5L283.5 403.3L286.5 403.6L288.0 403.4L289.5 402.7L292.0 401.2L293.0 400.7L294.0 400.3L295.0 400.0L298.0 399.8L303.0 399.9L304.5 399.6L305.5 399.2L307.0 398.2L308.0 397.3L310.0 395.1L311.2 394.1L312.0 393.6L312.5 393.4L313.5 393.3L314.5 393.6L315.0 393.9L315.8 394.6L316.5 395.5L317.3 397.1L318.5 400.4L319.3 402.1L320.5 404.2L321.5 405.5L322.5 406.5L323.5 407.2L324.5 407.6L325.0 407.7L325.5 407.6L326.0 407.3L327.0 406.3L328.0 405.0L329.0 403.3L330.0 401.1L330.5 399.7L332.0 395.1L333.5 390.2L334.0 388.9L334.7 387.6L335.5 386.4L336.0 386.1L336.5 385.9L337.0 386.1L337.5 386.5L338.5 388.1L339.5 390.3L340.5 392.8L341.3 395.1L342.0 397.1L342.4 399.1L342.6 401.1L343.3 408.1L343.9 415.1L344.2 416.6L344.7 418.1L345.5 419.7L346.2 420.6L347.2 421.6L349.4 423.6L353.8 427.1L352.0 428.8L350.0 430.4L348.0 431.8L343.5 434.6L340.9 436.6M275.3 436.6L274.3 434.6L273.1 433.1L272.0 432.2L269.5 430.4L268.0 429.3L265.7 427.1L268.0 425.0L273.0 421.0L274.0 420.0L275.0 418.6L275.5 417.4L275.9 416.1L276.9 411.1L278.1 406.6L279.0 402.6L279.5 401.4L280.0 400.6L280.5 400.0L281.5 399.3L282.0 399.1L283.0 399.0L284.0 399.0L286.5 399.5L288.0 399.4L289.0 399.1L292.0 397.7L293.5 397.2L295.0 397.0L298.0 396.8L299.5 396.7L301.5 396.3L303.5 395.7L305.0 395.0L306.5 394.0L307.5 393.1L310.0 390.4L311.0 389.6L312.0 389.1L313.0 389.0L314.0 389.2L315.0 389.7L316.0 390.6L317.0 391.8L317.9 393.1L318.8 394.6L320.5 398.6L321.0 399.6L321.5 400.2L322.0 400.6L322.5 400.9L323.5 401.1L325.0 401.1L326.0 400.9L327.0 400.4L328.0 399.5L328.5 398.8L329.5 396.9L330.5 394.5L332.0 388.6L333.7 384.1L334.8 380.6L335.5 379.4L336.0 379.1L336.5 379.1L337.0 379.4L337.5 379.9L338.0 380.8L338.5 382.1L342.8 396.6L343.2 398.6L343.4 400.1L344.6 414.1L345.0 416.1L345.5 417.6L346.5 419.3L348.0 421.1L350.2 423.1L354.9 427.1L353.0 429.1L351.0 430.8L349.0 432.3L344.6 435.1L342.6 436.6M274.5 436.6L274.0 435.6L273.5 434.8L272.9 434.1L272.0 433.3L270.0 431.9L268.0 430.4L266.0 428.6L264.6 427.1L267.0 424.8L272.8 420.1L273.7 419.1L274.5 417.8L275.0 416.4L275.4 414.6L276.9 406.6L277.5 402.4L277.9 400.6L278.5 399.1L280.2 395.6L281.5 392.5L282.0 391.7L282.5 391.0L283.5 390.2L284.0 390.0L284.5 389.9L285.0 390.0L285.5 390.2L286.1 390.6L286.7 391.1L288.0 392.7L288.5 393.1L289.0 393.4L289.5 393.5L290.5 393.5L292.5 393.2L293.5 393.1L294.5 393.2L297.0 393.6L298.5 393.7L299.9 393.6L301.0 393.4L302.5 392.9L304.0 392.2L305.0 391.4L305.7 390.6L306.3 389.6L306.7 388.6L307.3 385.6L307.5 385.1L308.0 384.5L308.6 384.1L309.5 383.8L311.0 383.8L312.5 384.1L313.5 384.4L314.5 385.0L315.0 385.4L316.0 386.6L318.5 390.5L320.0 392.6L321.0 393.8L322.0 394.7L323.0 395.2L324.0 395.5L325.5 395.5L326.5 395.3L327.5 394.7L328.0 394.2L328.5 393.5L329.0 392.4L330.2 388.6L332.0 383.7L332.4 382.1L333.0 378.4L333.6 376.6L334.0 375.9L334.5 375.3L335.0 374.9L335.5 374.7L336.0 374.7L336.5 374.8L337.0 375.2L337.5 375.7L338.5 377.4L339.2 379.1L339.8 381.1L342.0 390.2L343.4 395.6L343.8 397.6L344.1 399.6L345.4 413.6L345.6 415.1L346.0 416.5L346.5 417.6L347.0 418.4L348.4 420.1L351.0 422.6L354.5 425.6L356.0 427.1L354.0 429.3L351.5 431.6L349.5 433.0L344.2 436.6M273.7 436.6L273.1 435.6L272.5 434.9L271.5 434.1L269.0 432.3L267.0 430.7L265.4 429.1L263.7 427.1L265.0 425.6L266.5 424.2L272.5 419.2L273.4 418.1L274.0 417.1L274.5 415.6L275.0 413.2L276.0 407.1L276.5 402.1L276.9 400.1L278.1 395.6L279.0 391.0L279.5 389.1L280.5 386.4L281.0 385.5L281.5 384.8L282.0 384.3L283.0 383.8L283.5 383.6L284.5 383.5L286.5 383.8L294.5 385.5L296.0 385.6L297.5 385.5L298.5 385.1L299.0 384.8L300.0 384.0L301.8 382.1L303.5 380.8L308.0 378.7L311.0 377.0L312.0 376.6L313.0 376.5L313.5 376.7L314.0 377.0L314.5 377.6L317.0 381.9L317.8 383.6L318.9 387.1L319.5 388.3L320.0 389.1L321.0 390.2L322.0 390.7L323.0 390.9L324.0 390.7L325.5 390.1L326.5 389.4L328.0 387.8L329.0 386.4L330.0 384.5L330.5 383.1L330.9 381.1L331.3 377.1L331.7 375.6L332.1 374.6L333.0 373.0L334.0 371.7L335.0 370.8L335.5 370.6L336.0 370.6L336.5 370.7L337.0 371.1L337.5 371.6L338.0 372.5L339.5 376.1L340.7 380.1L344.5 397.1L344.7 399.1L345.1 403.1L346.0 412.7L346.3 414.6L346.6 415.6L347.0 416.6L347.5 417.5L348.8 419.1L351.2 421.6L355.5 425.5L357.0 427.1L354.9 429.6L352.5 431.9L350.0 433.8L345.9 436.6M272.9 436.6L272.0 435.6L269.0 433.5L266.5 431.4L264.5 429.3L262.8 427.1L264.0 425.6L265.5 424.1L267.5 422.3L271.5 419.0L272.4 418.1L273.0 417.4L273.7 416.1L274.0 415.1L274.3 413.6L275.0 409.6L275.4 406.1L275.9 401.1L277.0 395.1L277.6 390.1L278.1 387.1L278.6 385.1L279.3 383.1L280.0 381.7L281.0 380.4L282.0 379.4L283.5 378.4L285.0 377.7L286.5 377.3L287.0 377.3L288.0 377.5L290.7 378.6L292.5 379.1L294.5 379.4L296.0 379.2L297.5 378.7L300.0 377.4L301.0 377.0L304.5 376.1L305.5 375.8L307.0 375.0L309.5 373.3L311.0 372.5L312.5 371.9L313.5 371.7L314.0 371.7L315.0 371.9L315.5 372.2L316.4 373.1L317.0 374.1L317.7 375.6L319.0 379.3L321.0 383.8L321.5 384.6L322.0 385.1L322.5 385.3L323.5 385.2L325.5 384.7L326.5 384.3L327.5 383.6L328.0 383.0L328.5 382.1L328.7 381.1L329.1 377.6L329.3 376.6L329.8 375.1L330.2 374.1L331.9 371.1L333.5 368.9L334.3 368.1L335.0 367.6L335.5 367.4L336.0 367.3L336.5 367.4L337.0 367.6L337.5 368.0L338.0 368.5L338.6 369.6L339.5 372.0L341.2 378.6L345.1 397.1L346.6 411.6L347.0 414.1L347.5 415.6L348.3 417.1L349.5 418.5L352.5 421.6L356.0 424.9L358.0 427.1L355.5 430.1L353.0 432.6L351.0 434.3L347.6 436.6" stroke-width="1.0"/>
<path d="M301.0 427.6L298.5 427.8L296.0 427.8L288.8 427.1L295.0 426.3L297.0 426.1L299.0 426.2L303.0 426.8L305.5 427.0L309.5 426.9L314.0 427.1L320.0 426.8L326.0 426.7L329.0 426.8L331.9 427.1L328.5 427.4L323.5 427.5L319.0 427.4L314.0 427.1L309.5 427.3L305.5 427.3L301.0 427.6ZM328.0 428.6L319.0 429.1L314.0 428.9L309.5 429.0L304.5 428.8L299.5 429.0L296.5 429.0L294.0 428.9L287.0 428.2L284.0 427.8L280.8 427.1L283.5 426.5L287.0 425.9L294.5 424.9L297.0 424.7L299.0 424.8L303.9 425.6L306.0 425.7L314.0 425.8L325.0 425.3L329.0 425.3L331.0 425.5L333.5 425.9L335.5 426.4L337.5 427.1L335.0 427.8L333.0 428.2L328.0 428.6ZM321.5 430.6L319.0 430.9L317.5 431.0L313.5 430.9L310.0 430.9L308.5 430.8L304.5 430.4L296.5 430.3L290.0 429.9L285.5 429.5L282.5 428.9L280.0 428.2L277.5 427.1L278.5 426.5L279.5 426.1L282.0 425.4L294.0 423.5L297.0 423.2L299.0 423.4L303.5 424.2L306.0 424.4L309.5 424.3L314.0 424.4L326.5 423.9L330.0 424.0L333.0 424.3L335.5 424.9L338.0 425.8L340.7 427.1L336.5 428.7L333.5 429.4L331.5 429.7L326.2 430.1L321.5 430.6ZM318.0 433.2L316.5 433.3L313.5 433.0L309.5 433.1L308.0 432.9L305.0 432.2L303.5 432.0L295.0 431.7L290.0 431.3L285.0 430.8L282.5 430.4L280.0 429.6L277.5 428.4L275.5 427.1L277.0 426.0L278.0 425.3L279.5 424.6L281.0 424.2L285.5 423.3L294.0 422.0L297.0 421.7L299.0 421.9L303.0 422.7L305.5 422.9L310.5 422.7L321.5 422.7L327.0 422.4L330.0 422.5L333.5 422.8L335.5 423.2L337.0 423.7L338.5 424.4L341.5 426.1L343.6 427.1L337.5 429.7L335.0 430.5L332.5 431.0L327.0 431.4L324.5 431.7L322.3 432.1L318.0 433.2ZM318.0 435.7L316.5 435.9L313.0 435.7L309.5 435.8L308.0 435.5L304.5 434.2L303.0 433.9L301.5 433.8L297.0 433.6L292.5 433.3L289.5 432.9L283.0 431.9L280.5 431.2L278.5 430.3L277.0 429.4L274.0 427.1L276.0 425.4L277.5 424.3L279.0 423.5L280.5 422.9L282.5 422.3L285.5 421.7L294.0 420.3L296.5 420.1L299.0 420.2L303.0 421.1L305.0 421.3L307.0 421.3L311.0 420.7L314.0 420.5L316.5 420.6L321.5 421.1L326.5 421.0L335.5 421.1L336.5 421.3L337.5 421.7L342.4 425.1L346.0 427.1L338.0 430.8L335.5 431.8L334.0 432.2L332.5 432.5L326.5 433.0L324.0 433.4L321.5 434.1L318.0 435.7ZM304.3 436.6L303.0 436.2L302.0 436.0L296.5 435.9L292.0 435.5L281.5 433.2L280.0 432.6L278.5 431.7L272.5 427.1L277.0 423.3L278.5 422.3L280.5 421.3L282.0 420.8L284.0 420.2L293.5 418.5L296.0 418.2L298.0 418.2L299.5 418.4L303.5 419.4L305.5 419.6L306.5 419.5L308.0 419.2L312.5 417.8L314.5 417.6L316.0 417.8L319.5 418.9L321.0 419.2L322.5 419.3L330.0 419.4L332.0 419.1L333.5 418.6L334.3 418.1L334.9 417.6L336.5 415.8L337.0 415.6L337.5 416.0L339.0 419.1L339.8 420.6L340.6 421.6L341.5 422.6L342.6 423.6L343.9 424.6L348.0 427.1L345.0 428.8L341.3 430.6L338.0 432.3L335.5 433.4L334.0 433.9L332.0 434.4L327.0 434.6L325.0 434.9L324.0 435.2L322.7 435.6L320.9 436.6M286.6 436.6L285.0 436.2L282.0 435.5L281.0 435.1L280.0 434.6L278.5 433.5L274.3 429.6L271.0 427.1L278.0 421.2L280.0 419.8L282.5 418.4L284.5 417.7L289.5 417.0L294.5 415.9L296.5 415.7L298.5 415.8L300.5 416.3L303.5 417.2L305.0 417.4L306.0 417.3L307.0 417.1L308.3 416.6L313.0 414.1L314.0 413.8L315.0 413.7L315.5 413.8L316.5 414.2L319.0 416.0L320.0 416.6L321.5 417.1L323.0 417.2L328.0 417.5L329.5 417.4L330.7 417.1L331.5 416.7L332.1 416.1L332.5 415.5L332.9 414.6L333.1 413.6L333.7 410.1L334.1 408.1L334.8 405.6L335.5 403.8L336.0 402.9L336.5 402.3L337.0 402.0L337.5 402.1L338.0 402.5L338.5 403.4L339.0 404.7L339.5 406.7L340.1 410.1L340.3 414.6L340.6 416.6L341.0 418.6L341.6 420.1L342.6 421.6L344.0 423.1L345.9 424.6L349.6 427.1L347.0 428.9L341.9 431.6L336.5 434.8L334.0 436.0L332.5 436.4L331.5 436.6" stroke-width="1.2"/>
</g>
<g clip-path="url(#cp3)" fill="none" stroke="#000" stroke-linejoin="round"><path d="M149.0 621.1L147.5 621.4L146.5 621.3L145.5 621.1L144.5 620.8L141.5 619.0L140.2 618.4L138.1 617.9L134.5 617.3L133.5 617.3L132.0 617.4L128.0 618.2L126.0 618.4L124.0 618.2L121.0 617.3L120.0 617.1L116.0 617.5L112.5 617.0L111.0 617.0L109.5 617.2L106.5 617.8L104.5 617.9L98.0 617.3L93.0 617.1L88.0 616.5L86.0 616.0L84.0 615.1L81.5 613.7L80.0 612.6L79.2 611.9L77.7 610.4L76.6 608.9L75.9 607.4L75.7 606.4L75.6 605.4L76.2 603.4L77.1 601.9L78.5 600.2L80.5 598.5L82.5 597.1L88.5 594.2L90.0 593.6L91.5 593.2L94.0 592.9L97.0 592.7L104.0 593.0L107.0 593.0L119.0 591.1L121.5 590.9L123.5 591.0L125.5 591.5L127.0 592.1L129.5 593.4L131.0 593.8L132.0 594.0L133.0 593.9L134.5 593.7L135.2 593.4L136.0 592.9L137.0 591.9L138.0 590.4L139.5 587.4L140.4 585.9L142.0 583.9L143.5 582.2L144.5 581.5L145.5 581.0L146.5 580.8L148.0 580.9L150.5 581.7L152.0 582.5L153.0 583.4L153.5 584.0L154.1 584.9L154.7 585.9L155.4 587.9L157.3 595.4L158.3 600.4L158.6 603.4L158.4 606.4L158.3 607.4L157.9 608.9L157.2 610.4L155.5 613.3L154.0 616.5L153.0 618.0L151.7 619.4L150.5 620.4L149.0 621.1ZM145.5 543.0L144.5 543.0L143.5 542.8L143.0 542.4L142.6 541.9L142.3 541.4L142.3 540.9L142.3 540.4L142.5 539.9L142.8 539.4L143.5 538.8L144.5 538.4L145.0 538.3L146.0 538.4L147.0 538.9L147.5 539.4L147.8 539.9L147.9 540.4L147.8 540.9L147.7 541.4L147.4 541.9L146.5 542.6L145.5 543.0ZM149.0 622.9L148.0 623.1L147.0 623.2L146.0 623.1L145.0 622.9L143.5 622.4L141.0 621.0L139.7 620.4L134.5 619.2L133.5 619.0L132.0 619.0L128.0 619.8L125.5 620.0L121.5 619.9L111.5 618.9L110.0 619.0L107.0 619.6L105.0 619.7L100.0 619.2L94.5 618.9L88.5 618.0L87.0 617.7L85.5 617.3L84.5 616.8L81.5 615.2L79.0 613.5L76.6 611.4L75.7 610.4L74.8 608.9L74.4 607.4L74.3 605.4L74.9 603.4L75.4 602.4L76.1 601.4L77.9 599.4L80.5 597.1L82.0 596.0L83.0 595.5L88.5 593.1L90.0 592.6L91.0 592.3L93.0 592.0L96.0 591.8L98.0 591.7L103.0 591.9L108.0 591.6L110.0 591.4L119.0 590.1L121.0 590.0L122.5 590.0L124.5 590.3L126.0 590.6L129.5 591.9L130.5 592.1L132.0 592.1L133.0 592.0L134.0 591.7L135.5 590.8L136.5 589.9L137.5 588.5L140.3 583.9L141.5 582.4L143.0 580.9L144.5 579.8L145.5 579.3L146.5 579.1L148.0 579.1L149.5 579.6L150.5 580.1L151.5 580.6L152.5 581.4L154.0 583.0L155.2 584.9L156.2 587.4L158.3 595.4L159.2 599.9L159.5 602.9L159.3 606.4L158.8 608.9L158.3 610.4L156.5 613.9L155.3 616.9L154.8 617.9L153.5 619.7L152.0 621.3L150.5 622.3L149.0 622.9ZM141.0 548.1L140.5 548.1L140.1 547.9L139.9 547.4L139.2 543.4L139.1 541.9L139.3 540.9L139.6 539.9L140.1 538.9L141.0 537.9L141.7 537.4L143.0 536.8L144.0 536.5L145.5 536.5L146.5 536.6L147.5 536.9L148.5 537.5L149.5 538.5L150.0 539.4L150.1 539.9L150.2 540.4L150.1 541.4L149.8 542.4L149.5 543.0L148.5 544.1L147.0 545.2L141.0 548.1ZM143.6 624.4L139.5 622.7L134.5 621.3L133.0 621.0L131.5 621.0L128.0 621.4L121.0 621.9L119.5 621.9L115.3 621.4L112.0 621.3L110.0 621.6L107.0 622.1L105.5 622.2L101.5 621.8L97.0 621.6L95.5 621.3L92.5 620.4L91.5 620.2L88.0 619.8L87.0 619.6L86.0 619.3L84.5 618.6L82.0 617.3L78.5 615.1L75.0 612.7L74.0 611.9L73.2 610.9L72.8 609.9L72.6 608.9L72.5 607.4L72.6 605.9L72.8 604.4L73.6 602.4L74.6 600.9L75.5 599.9L80.0 595.8L81.0 595.0L82.5 594.2L88.5 591.8L91.0 591.2L95.0 590.7L97.5 590.5L102.0 590.5L105.5 590.2L110.0 590.1L120.5 588.9L122.0 588.9L124.0 589.1L130.0 590.4L131.4 590.4L132.5 590.2L133.5 589.9L134.5 589.4L135.3 588.9L136.0 588.2L137.0 586.9L139.9 582.4L141.2 580.9L143.0 579.2L144.5 578.2L146.0 577.6L147.5 577.4L149.0 577.6L150.0 577.9L151.0 578.5L152.0 579.2L153.0 580.2L154.0 581.3L154.9 582.4L156.3 584.9L157.3 587.9L159.6 596.4L160.2 599.4L160.5 602.4L160.4 605.9L160.2 607.4L159.9 608.9L159.2 610.9L157.5 614.6L156.7 616.9L156.1 618.4L155.5 619.4L154.8 620.4L153.0 622.3L151.5 623.6L150.0 624.4M143.5 550.4L142.5 550.8L141.5 550.9L140.0 550.7L139.1 550.4L138.5 550.1L137.5 549.1L136.8 547.9L136.4 546.9L136.2 545.9L136.1 543.4L136.3 541.4L136.8 539.9L137.5 538.4L138.8 536.9L140.0 536.0L141.5 535.2L143.5 534.7L145.5 534.6L147.0 534.8L148.5 535.3L149.5 535.8L150.5 536.5L151.3 537.4L152.0 538.4L152.3 539.4L152.5 540.4L152.4 541.9L152.1 542.9L151.6 543.9L151.0 544.9L150.0 545.9L148.5 547.2L146.5 548.7L145.0 549.7L143.5 550.4ZM103.9 624.4L97.0 624.1L95.5 623.8L92.5 622.6L91.5 622.3L90.5 622.2L88.0 622.1L86.5 621.8L84.5 621.0L80.6 618.9L76.5 616.8L75.5 616.4L74.5 616.3L73.0 616.2L72.5 616.1L72.0 615.9L71.5 615.4L70.5 614.0L69.4 611.9L68.9 610.4L68.9 609.4L69.5 607.4L70.2 603.9L70.6 602.9L71.1 601.9L72.3 600.4L73.2 599.4L76.5 597.0L79.3 594.4L80.5 593.4L81.5 592.9L83.0 592.2L87.5 590.6L89.5 590.0L91.5 589.7L97.0 589.1L101.5 588.9L105.5 588.6L110.0 588.8L112.0 588.7L120.5 587.8L122.0 587.8L123.5 587.9L128.5 588.6L130.0 588.7L131.5 588.6L133.0 588.3L134.5 587.5L135.5 586.6L136.5 585.4L139.1 581.4L140.5 579.9L142.5 578.0L144.0 577.0L145.5 576.3L146.5 576.0L148.0 575.8L149.0 575.9L150.0 576.2L151.0 576.7L152.0 577.4L153.0 578.3L154.4 579.9L155.4 581.4L156.3 582.9L157.3 584.9L158.3 587.9L160.7 596.4L161.4 600.4L161.6 602.4L161.6 604.4L161.4 606.4L161.2 607.9L160.7 609.9L159.0 614.6L158.0 617.9L157.3 619.4L156.2 620.9L154.5 622.9L152.9 624.4M137.6 624.4L134.0 623.5L132.5 623.3L129.0 623.5L125.0 623.4L120.0 624.1L118.5 624.0L114.5 623.7L112.0 623.7L110.0 623.9L106.8 624.4M144.5 553.5L143.5 553.5L142.5 553.5L141.0 553.3L139.5 553.1L138.0 552.5L137.0 551.9L136.3 551.4L135.5 550.5L135.0 549.9L134.4 548.9L134.0 547.9L133.5 545.9L133.4 544.9L133.4 543.4L133.6 541.9L133.8 540.9L134.5 538.9L135.1 537.9L135.8 536.9L137.0 535.6L138.0 534.8L139.0 534.2L141.0 533.3L142.0 533.0L143.5 532.8L145.5 532.7L147.5 533.0L149.5 533.6L151.0 534.4L152.3 535.4L153.6 536.9L154.4 538.4L154.8 539.9L154.8 541.4L154.5 542.9L154.0 544.4L153.4 545.4L152.3 546.9L150.8 548.4L146.0 552.7L145.5 553.1L144.5 553.5ZM86.3 624.4L84.0 623.6L80.0 621.5L77.0 620.5L76.0 620.3L75.0 620.2L71.5 620.6L70.0 620.3L69.0 619.9L68.3 619.4L67.8 618.9L67.0 617.9L66.7 616.9L66.4 615.4L66.0 614.4L64.5 612.5L64.0 611.4L63.7 610.4L63.8 608.9L64.2 607.9L65.4 605.4L66.4 602.9L66.9 601.9L67.8 600.9L71.5 597.7L73.0 596.6L75.5 595.2L79.0 592.4L81.0 591.1L87.0 588.8L89.5 588.1L96.5 587.5L104.5 587.0L106.5 587.0L112.5 587.3L114.0 587.3L118.5 586.7L120.5 586.5L123.5 586.5L129.5 587.0L131.0 586.9L132.5 586.5L133.9 585.9L135.0 585.0L136.0 583.7L137.6 581.4L138.8 579.9L140.5 578.1L142.0 576.8L143.5 575.7L145.0 574.9L146.5 574.5L148.0 574.3L149.5 574.5L150.5 574.8L151.5 575.3L152.5 576.1L153.5 577.0L154.5 578.2L155.7 579.9L156.6 581.4L158.1 584.4L159.2 587.4L161.7 595.9L162.4 599.4L162.8 602.9L162.9 605.4L162.7 607.4L161.8 610.9L159.7 617.9L159.1 619.4L158.5 620.4L157.8 621.4L155.1 624.4M146.5 560.5L146.0 560.7L145.5 560.7L145.0 560.4L144.5 559.8L143.0 557.3L142.5 556.7L142.0 556.3L141.0 555.8L138.5 555.1L137.0 554.5L135.5 553.6L134.5 552.8L133.2 551.4L132.3 549.9L131.5 547.9L131.1 545.9L130.9 544.4L131.0 542.9L131.2 541.4L131.4 540.4L131.7 539.4L132.4 537.9L133.7 535.9L134.6 534.9L135.5 534.1L137.5 532.7L138.5 532.2L140.0 531.6L141.5 531.2L143.0 530.9L145.5 530.8L148.0 531.1L149.5 531.5L150.5 531.9L152.5 533.0L154.3 534.4L155.5 535.9L156.1 536.9L156.6 537.9L156.9 538.9L157.0 539.9L157.1 541.4L156.9 542.9L156.4 544.4L156.0 545.4L155.1 546.9L153.9 548.4L152.5 549.9L150.0 552.3L149.0 553.6L148.6 554.4L148.2 555.4L147.5 558.9L147.0 560.0L146.5 560.5ZM80.0 624.4L78.5 623.9L77.0 623.6L72.5 623.5L71.0 623.3L69.5 623.0L68.0 622.5L66.5 621.7L65.5 620.9L63.4 618.9L61.7 616.9L61.1 615.9L60.7 614.4L60.2 610.9L60.2 609.4L60.5 606.4L60.4 603.9L60.6 602.4L61.2 600.9L62.0 599.9L62.5 599.5L63.5 598.9L66.0 598.0L67.0 597.5L70.5 595.1L75.0 592.7L78.5 590.5L80.0 589.6L86.5 587.0L89.0 586.2L92.0 585.9L104.0 585.4L113.5 585.8L119.5 585.2L124.5 585.0L129.5 585.1L131.0 585.0L132.0 584.7L132.9 584.4L133.5 584.1L134.5 583.2L139.0 577.9L141.0 575.9L142.5 574.6L144.0 573.7L145.0 573.3L146.5 572.9L148.0 572.8L149.5 573.0L150.5 573.3L151.5 573.8L152.5 574.4L153.5 575.3L154.5 576.4L155.6 577.9L156.9 579.9L158.7 583.4L160.3 587.4L162.8 595.4L163.3 597.4L163.8 599.9L164.4 603.4L164.5 605.4L164.3 607.4L163.9 609.4L162.6 613.9L160.9 619.4L159.8 621.4L158.7 622.9L157.3 624.4M147.0 563.0L146.5 563.3L146.0 563.4L145.5 563.3L145.0 563.1L144.0 562.3L143.3 561.4L142.0 559.4L141.0 558.4L140.0 557.9L137.5 557.0L136.0 556.4L134.5 555.6L133.0 554.4L131.6 552.9L130.3 550.9L129.4 548.9L128.8 546.4L128.6 544.9L128.6 543.4L128.7 541.9L129.0 540.4L129.3 539.4L129.9 537.9L130.7 536.4L131.5 535.2L132.5 534.0L133.5 533.0L134.5 532.2L136.0 531.2L137.5 530.5L139.0 529.9L140.5 529.4L142.0 529.1L143.5 529.0L145.0 528.9L146.5 529.0L148.0 529.2L149.5 529.6L151.0 530.1L152.5 530.7L153.5 531.3L154.5 532.0L155.7 532.9L156.6 533.9L157.4 534.9L158.5 536.9L158.9 537.9L159.2 539.4L159.4 540.9L159.2 542.9L158.8 544.4L158.0 546.4L156.7 548.4L155.5 549.9L154.1 551.4L151.5 553.9L150.7 554.9L149.9 556.4L148.9 559.9L148.5 561.0L148.0 561.9L147.5 562.6L147.0 563.0ZM56.0 608.8L56.6 605.9L56.8 603.4L57.1 601.9L57.6 600.4L58.5 598.8L59.5 597.5L60.5 596.6L64.1 594.4L66.5 592.5L67.5 591.9L68.5 591.6L71.0 591.4L73.0 590.8L75.0 590.0L80.0 587.6L86.0 585.2L88.0 584.6L90.0 584.2L92.5 583.9L103.0 583.7L114.0 584.0L117.5 583.7L122.0 583.5L126.0 583.2L130.0 583.2L131.5 582.9L132.8 582.4L134.0 581.6L135.5 580.0L140.0 575.0L141.5 573.6L142.5 572.8L144.0 571.9L145.5 571.4L147.0 571.1L148.5 571.2L150.0 571.5L151.0 572.0L152.0 572.5L153.5 573.7L154.5 574.7L155.5 575.9L157.7 579.4L159.7 583.4L161.4 587.4L164.2 595.9L166.0 602.9L166.3 604.9L166.3 605.9L166.2 607.4L165.8 609.4L164.6 614.9L163.3 618.4L162.4 620.4L161.2 622.4L159.7 624.4M65.7 624.4L64.0 623.2L59.0 619.0L57.9 617.9L57.5 617.3L57.1 616.4L56.0 611.3" stroke-width="1.0"/>
<path d="M122.0 598.4L121.6 597.9L122.0 597.7L122.4 597.9L122.0 598.4ZM122.5 599.0L122.0 599.2L121.5 599.1L121.0 598.8L120.8 598.4L120.8 597.9L121.2 597.4L121.5 597.2L122.0 597.1L122.7 597.4L123.1 597.9L123.0 598.4L122.5 599.0ZM98.5 600.4L98.0 600.5L97.5 600.5L97.1 600.4L96.8 599.9L97.5 599.5L98.0 599.5L98.5 599.6L98.9 599.9L98.5 600.4ZM113.0 601.5L112.5 601.8L112.0 601.8L111.5 601.7L111.1 601.4L111.5 600.9L112.0 600.7L112.5 600.7L113.2 600.9L113.2 601.4L113.0 601.5ZM123.0 599.5L122.5 599.8L121.5 599.9L121.0 599.8L120.5 599.5L120.1 598.9L119.9 598.4L120.0 597.9L120.3 597.4L120.9 596.9L121.5 596.7L122.0 596.6L122.5 596.7L123.0 597.0L123.4 597.4L123.7 597.9L123.7 598.4L123.5 599.0L123.0 599.5ZM98.0 601.4L97.0 601.4L96.0 601.1L95.7 600.9L95.4 600.4L95.6 599.9L96.1 599.4L96.5 599.2L98.0 598.8L99.0 598.7L99.5 598.9L100.0 599.2L100.2 599.4L100.4 599.9L100.2 600.4L99.5 601.0L99.0 601.2L98.0 601.4ZM149.5 606.6L149.0 606.7L148.5 606.6L146.4 605.4L145.5 604.4L145.3 603.9L145.3 603.4L145.4 602.4L146.0 600.9L147.0 599.4L147.5 598.9L148.0 598.8L148.5 599.0L148.8 599.4L149.1 600.4L149.2 602.9L149.3 603.4L150.0 604.4L150.3 604.9L150.3 605.4L150.2 605.9L150.0 606.2L149.5 606.6ZM113.5 602.5L111.5 602.8L110.5 602.8L110.0 602.6L109.5 602.4L109.2 601.9L109.2 601.4L109.6 600.9L110.2 600.4L111.5 599.9L113.0 599.7L114.0 599.7L114.5 599.9L115.3 600.4L115.5 600.9L115.4 601.4L115.0 601.9L113.5 602.5ZM130.5 607.6L130.0 607.7L129.5 607.7L128.9 607.4L128.5 606.9L128.3 606.4L128.4 605.9L128.9 605.4L129.5 605.3L130.0 605.3L130.5 605.5L130.9 605.9L131.1 606.4L131.1 606.9L130.5 607.6ZM121.5 600.9L121.0 600.9L120.0 600.8L119.3 600.4L118.9 599.9L118.9 598.9L119.1 597.9L119.4 597.4L120.0 596.8L121.0 596.3L121.5 596.2L122.5 596.2L123.5 596.7L124.1 597.4L124.3 597.9L124.3 598.4L124.2 598.9L124.0 599.4L123.5 600.1L122.5 600.7L121.5 600.9ZM149.0 608.4L148.5 608.5L148.0 608.3L147.5 608.0L145.4 606.4L143.7 605.4L143.5 604.9L143.5 604.4L143.7 603.4L144.1 602.4L144.9 600.9L145.8 599.4L147.0 597.8L147.5 597.2L148.0 596.9L148.5 596.7L149.1 596.9L149.5 597.3L149.8 597.9L150.1 598.9L150.6 601.9L151.3 603.9L151.5 604.9L151.4 605.9L150.9 606.9L150.5 607.5L150.0 608.0L149.5 608.3L149.0 608.4ZM98.5 602.4L97.5 602.6L96.5 602.6L95.5 602.3L95.0 602.0L94.2 601.4L93.9 600.9L93.8 600.4L94.1 599.9L94.6 599.4L95.5 598.9L97.5 598.2L99.0 598.1L100.0 598.2L100.5 598.4L101.1 598.9L101.4 599.4L101.6 599.9L101.5 600.4L101.3 600.9L100.5 601.7L99.5 602.2L98.5 602.4ZM108.0 605.5L105.7 605.4L106.5 605.2L107.3 604.9L107.4 604.4L107.1 602.9L107.2 601.9L107.9 600.9L108.5 600.3L109.5 599.7L111.5 599.1L113.0 598.8L114.0 598.8L115.0 599.0L116.2 599.4L117.2 599.9L117.8 600.4L118.1 600.9L118.0 601.4L117.8 601.9L117.0 602.6L116.0 602.9L111.7 603.9L110.1 604.4L108.8 604.9L108.5 605.4L108.0 605.5ZM131.0 608.5L130.5 608.7L129.5 608.8L128.5 608.5L128.0 608.2L127.3 607.4L127.0 606.9L126.5 605.4L127.5 604.8L128.0 604.6L129.0 604.4L130.5 604.6L132.0 605.3L132.3 605.9L132.4 606.4L132.3 606.9L132.2 607.4L131.8 607.9L131.0 608.5ZM88.5 606.0L88.0 606.1L87.0 606.0L86.3 605.4L86.8 604.9L87.0 604.8L88.0 604.6L88.5 604.6L89.1 604.9L89.3 605.4L88.5 606.0ZM99.0 606.0L98.0 606.0L97.5 605.9L96.5 605.6L96.0 605.4L96.5 605.2L97.5 605.0L102.7 605.4L99.0 606.0ZM106.0 610.0L105.0 610.2L104.0 610.3L102.0 610.3L100.5 610.2L99.3 609.9L98.2 609.4L97.8 608.9L97.7 608.4L98.0 607.9L99.0 607.2L100.5 607.0L102.0 607.1L104.5 607.7L106.1 608.4L106.7 608.9L106.8 609.4L106.3 609.9L106.0 610.0ZM149.0 610.0L148.5 610.1L148.0 610.1L147.5 609.9L147.0 609.5L145.5 608.0L144.7 607.4L143.9 606.9L143.0 606.5L142.3 606.4L141.5 606.4L139.5 606.8L138.5 606.8L137.5 606.4L135.4 605.4L136.0 605.3L138.5 604.3L141.0 603.9L141.5 603.7L142.0 603.3L142.5 602.7L145.0 599.1L147.4 594.9L148.0 594.3L148.5 594.1L149.0 594.2L149.5 594.5L150.0 595.0L150.5 595.9L150.9 597.4L151.5 600.8L152.4 603.9L152.5 604.9L152.5 605.4L152.3 606.4L151.5 607.8L150.6 608.9L150.0 609.5L149.0 610.0ZM106.5 611.0L105.0 611.1L100.5 611.1L98.5 610.8L96.5 610.1L95.5 609.5L95.0 608.9L94.6 606.9L94.3 606.4L93.7 605.9L93.0 605.6L92.5 605.6L91.5 605.9L90.0 607.1L89.5 607.4L89.0 607.5L88.0 607.6L87.0 607.4L85.5 606.8L84.1 605.9L83.7 605.4L83.9 604.9L84.6 604.4L88.0 603.2L91.0 602.4L91.5 602.0L92.0 600.4L92.2 599.9L92.7 599.4L94.0 598.7L97.0 597.8L98.5 597.5L99.5 597.5L100.5 597.7L101.5 598.2L102.3 598.9L102.9 599.9L103.2 600.9L103.3 601.9L103.5 602.3L104.0 602.2L104.5 601.9L107.5 599.8L109.5 598.8L111.5 598.3L113.0 598.1L114.5 598.0L117.0 598.2L117.5 598.1L118.0 597.7L118.8 596.9L120.0 596.1L121.0 595.7L122.0 595.6L123.0 595.8L124.0 596.4L124.4 596.9L124.9 597.9L124.9 598.9L124.7 599.9L123.2 602.4L123.0 602.9L123.0 603.4L123.3 603.9L124.0 604.1L124.5 604.1L127.5 603.5L128.5 603.4L129.5 603.4L131.0 603.8L134.0 605.2L134.8 605.4L134.5 605.7L133.6 607.4L132.5 608.6L132.0 609.0L131.0 609.5L130.5 609.6L129.5 609.7L128.5 609.6L127.1 608.9L126.4 608.4L124.5 606.7L123.9 606.4L123.0 606.2L120.0 606.4L119.0 606.3L118.0 606.0L116.4 605.4L116.1 604.9L115.5 604.7L115.0 604.6L114.0 604.7L113.3 604.9L112.5 605.4L110.2 606.4L109.4 606.9L109.1 607.4L109.2 607.9L109.5 608.9L109.5 609.4L109.1 609.9L108.0 610.6L106.5 611.0ZM106.0 611.9L101.0 611.9L99.0 611.7L96.5 611.2L95.0 610.8L94.2 610.4L92.5 609.3L92.0 609.1L91.5 609.0L89.0 609.3L87.5 609.1L85.5 608.2L83.5 607.2L82.6 606.4L82.2 605.9L81.9 605.4L81.9 604.9L82.2 604.4L82.5 604.0L83.0 603.6L84.0 603.2L86.0 602.7L88.0 601.9L89.5 600.9L90.8 599.4L91.5 598.8L92.5 598.2L94.0 597.8L98.0 597.0L99.0 596.9L100.0 596.9L101.0 597.1L102.0 597.6L104.0 599.0L104.5 599.2L105.5 599.4L106.5 599.1L109.0 598.2L111.0 597.6L113.0 597.3L116.5 597.2L117.5 596.8L119.0 595.9L120.0 595.4L121.0 595.1L122.0 595.0L123.0 595.2L124.0 595.7L124.8 596.4L125.1 596.9L125.4 597.4L125.6 598.4L125.7 600.9L125.9 601.4L126.4 601.9L127.5 602.2L130.5 602.6L134.0 603.8L135.0 603.9L135.5 603.8L140.5 602.4L141.3 601.9L142.0 601.3L143.5 599.6L144.5 598.2L145.1 596.9L145.7 594.4L146.0 593.6L146.5 592.8L147.5 592.0L148.5 591.6L149.0 591.6L149.5 591.8L150.0 592.2L150.5 592.9L151.3 594.4L151.7 595.9L152.3 599.9L153.3 603.4L153.4 604.4L153.4 605.4L153.2 606.4L153.0 606.9L151.8 608.9L150.0 610.9L149.0 611.6L148.5 611.7L148.0 611.7L147.5 611.6L147.0 611.4L146.4 610.9L144.5 608.9L143.5 608.2L142.5 607.9L141.5 607.9L139.5 608.6L139.0 608.7L138.0 608.6L136.5 608.1L135.5 608.1L134.5 608.5L132.5 609.8L131.5 610.3L130.5 610.6L129.0 610.6L127.5 610.4L124.0 609.3L120.0 608.8L118.0 608.5L117.0 608.0L115.5 606.9L114.5 606.7L113.6 606.9L113.3 607.4L113.3 607.9L113.8 608.9L113.9 609.4L113.6 609.9L113.0 610.4L111.5 610.9L108.0 611.7L106.0 611.9ZM149.0 613.0L148.5 613.1L147.5 613.1L146.5 612.8L145.5 612.1L143.5 610.3L142.5 609.9L141.5 609.9L140.0 610.3L139.0 610.4L138.0 610.3L136.5 609.9L135.5 609.8L134.5 610.0L131.5 611.3L129.5 611.6L127.5 611.6L123.0 611.0L120.0 610.6L118.5 610.5L117.0 610.7L113.5 611.8L110.0 612.2L107.0 612.7L101.5 612.8L99.5 612.7L96.5 612.1L92.0 611.2L88.5 610.9L87.0 610.4L84.5 609.2L83.5 608.6L82.5 607.8L81.3 606.4L80.7 605.4L80.8 604.9L81.1 603.9L81.5 603.4L82.1 602.9L83.0 602.4L85.5 601.7L87.0 601.1L88.0 600.4L90.5 598.2L91.5 597.6L92.5 597.2L97.0 596.5L98.5 596.3L99.5 596.3L101.5 596.6L104.5 597.9L105.0 598.0L106.0 598.0L107.0 597.9L109.5 597.2L111.5 596.7L115.5 596.3L116.5 596.1L120.0 594.7L121.5 594.4L122.5 594.5L123.5 594.7L124.5 595.3L125.0 595.7L125.6 596.4L126.1 597.4L127.0 600.1L127.5 600.6L128.0 600.9L131.0 601.6L133.5 602.4L134.5 602.5L136.0 602.4L139.0 601.4L140.0 601.0L141.0 600.4L142.0 599.5L143.0 598.4L143.5 597.4L143.8 596.4L144.3 593.4L144.5 592.8L145.0 592.0L146.0 591.0L147.5 590.1L148.5 589.7L149.0 589.6L149.5 589.6L150.0 589.8L150.5 590.2L151.0 590.9L151.5 592.0L152.2 593.9L152.7 595.9L153.0 599.2L154.1 602.9L154.3 603.9L154.4 604.9L154.1 606.4L153.7 607.4L153.1 608.4L151.4 610.9L150.5 612.0L150.0 612.4L149.0 613.0ZM148.5 614.4L147.5 614.5L146.5 614.3L145.5 613.8L143.5 612.6L142.5 612.2L141.5 612.0L138.5 611.9L136.5 611.4L135.5 611.3L134.5 611.4L131.0 612.4L129.0 612.7L127.5 612.8L125.5 612.6L123.5 612.3L120.5 611.8L119.0 611.7L117.5 611.9L115.0 612.6L114.0 612.7L110.5 613.0L107.0 613.5L105.5 613.6L100.0 613.5L93.5 612.6L89.0 612.2L87.5 611.9L86.0 611.3L84.0 610.2L82.5 609.1L81.5 608.2L80.5 606.9L79.7 605.4L79.8 604.9L80.1 603.9L80.4 603.4L80.7 602.9L81.5 602.2L82.5 601.6L86.0 600.3L87.0 599.7L89.9 597.4L91.0 596.8L92.0 596.5L93.5 596.2L97.5 595.7L99.5 595.7L101.5 596.0L105.0 596.9L106.5 597.0L111.0 596.0L115.6 595.4L117.0 595.0L119.5 594.2L121.5 593.8L122.5 593.9L123.5 594.1L124.5 594.5L125.1 594.9L125.6 595.4L126.5 596.4L128.0 599.1L128.5 599.6L129.0 599.8L133.5 601.1L134.5 601.2L136.0 601.0L137.7 600.4L139.5 599.4L140.5 598.7L141.5 597.7L142.0 596.9L142.2 596.4L142.8 593.4L143.3 591.9L143.9 590.9L144.5 590.2L145.5 589.4L147.5 588.2L148.5 587.8L149.5 587.6L150.0 587.7L150.5 587.9L151.0 588.3L151.4 588.9L152.0 590.2L152.7 592.4L153.4 594.9L154.0 599.4L154.7 601.9L155.1 603.4L155.2 605.4L154.9 606.9L154.4 607.9L151.5 612.3L151.0 612.9L150.0 613.8L149.5 614.1L148.5 614.4ZM149.5 615.4L149.0 615.6L148.0 615.8L146.5 615.7L145.5 615.4L143.5 614.4L142.0 613.8L135.5 612.8L134.0 612.9L130.0 613.7L127.5 614.0L125.0 613.8L120.5 612.8L119.0 612.7L118.0 612.9L115.5 613.5L114.5 613.7L110.5 613.8L107.0 614.3L104.5 614.4L100.0 614.4L95.0 613.8L89.0 613.4L87.5 613.1L86.0 612.5L84.0 611.5L82.5 610.4L81.3 609.4L80.0 607.9L79.1 606.4L78.8 605.4L79.1 603.9L79.7 602.9L80.5 601.9L81.5 601.1L82.5 600.6L85.5 599.3L86.5 598.7L89.0 596.9L90.5 596.1L92.0 595.6L94.0 595.4L97.5 595.1L99.5 595.1L101.5 595.3L104.5 595.9L106.5 596.0L107.5 595.9L111.5 595.1L115.9 594.4L120.5 593.2L121.5 593.1L122.5 593.2L124.0 593.5L125.0 594.0L125.6 594.4L126.7 595.4L128.5 597.6L129.5 598.4L130.8 598.9L133.5 599.6L134.5 599.6L135.5 599.5L137.0 598.9L138.0 598.3L139.2 597.4L140.1 596.4L140.5 595.9L141.0 594.7L142.2 590.9L142.7 589.9L143.5 588.9L145.0 587.7L147.0 586.5L148.5 585.9L149.5 585.8L150.5 586.1L151.5 586.8L152.3 587.9L152.7 588.9L154.2 594.4L154.8 598.9L155.9 602.9L156.0 604.9L156.0 605.9L155.8 606.9L155.4 607.9L154.9 608.9L151.5 613.9L150.5 614.9L149.5 615.4ZM147.5 617.4L146.0 617.2L143.0 615.8L141.5 615.3L137.0 614.4L135.5 614.2L133.5 614.3L129.0 615.1L127.0 615.3L126.0 615.2L125.0 615.0L121.0 613.9L119.5 613.8L118.5 613.9L115.5 614.6L111.0 614.7L106.5 615.3L104.0 615.4L100.0 615.3L95.5 614.8L90.5 614.6L88.5 614.3L87.0 614.0L85.0 613.2L83.0 612.1L81.5 611.0L80.0 609.5L78.8 607.9L78.3 606.9L77.8 605.4L78.2 603.9L78.7 602.9L79.8 601.4L81.0 600.4L82.5 599.5L85.7 597.9L89.5 595.6L91.0 595.1L93.0 594.7L96.0 594.4L99.0 594.4L101.5 594.6L104.5 595.0L106.5 595.1L108.0 594.9L116.0 593.4L120.0 592.6L121.5 592.4L122.5 592.5L124.0 592.8L125.0 593.1L126.0 593.7L127.0 594.4L129.0 596.2L130.0 596.9L130.5 597.1L132.0 597.5L133.5 597.8L134.5 597.8L135.5 597.6L136.5 597.1L137.5 596.5L138.3 595.9L139.0 595.1L139.5 594.3L139.9 593.4L141.2 589.9L141.7 588.9L142.3 587.9L143.2 586.9L145.0 585.5L146.5 584.7L148.0 584.3L149.5 584.3L150.5 584.5L151.0 584.8L152.0 585.5L152.5 586.1L153.0 586.9L153.6 588.4L155.1 594.4L155.8 598.4L156.6 601.9L156.8 603.4L156.9 605.4L156.6 606.9L156.3 607.9L155.9 608.9L152.1 614.9L151.0 616.1L150.0 616.7L149.0 617.2L147.5 617.4ZM149.0 619.1L147.5 619.4L146.0 619.2L145.0 618.8L142.5 617.4L141.0 616.8L139.5 616.4L137.5 616.0L135.0 615.7L132.5 615.8L128.0 616.7L126.5 616.8L125.0 616.6L121.7 615.4L120.0 615.1L119.0 615.2L116.0 615.9L115.0 615.9L112.5 615.7L111.0 615.7L109.5 615.8L106.5 616.4L104.5 616.5L91.5 615.7L88.0 615.3L86.0 614.8L84.5 614.1L82.0 612.7L80.5 611.5L78.9 609.9L77.8 608.4L77.1 606.9L76.7 605.4L77.2 603.9L77.9 602.4L79.0 601.0L80.5 599.7L82.0 598.7L88.5 595.2L90.0 594.5L92.0 594.0L94.5 593.7L98.0 593.6L100.5 593.7L104.5 594.1L106.5 594.1L108.2 593.9L120.0 591.8L122.0 591.7L124.0 592.0L125.5 592.5L127.0 593.3L129.5 594.9L131.0 595.5L133.0 595.9L134.0 595.9L135.0 595.7L136.0 595.3L136.7 594.9L137.5 594.2L138.0 593.6L138.9 591.9L140.2 588.9L141.0 587.4L142.0 586.0L144.0 583.9L145.0 583.2L146.0 582.8L147.5 582.6L149.5 582.9L151.0 583.4L151.9 583.9L152.5 584.4L153.5 585.8L154.3 587.4L154.7 588.9L156.2 594.9L157.3 600.4L157.6 602.9L157.7 604.9L157.6 605.9L157.4 607.4L156.9 608.9L156.4 609.9L154.5 612.9L153.2 615.4L152.5 616.4L151.5 617.5L150.5 618.3L149.0 619.1Z" stroke-width="1.15"/>
</g>
<g clip-path="url(#cp4)" fill="none" stroke="#000" stroke-linejoin="round"><path d="M333.5 560.2L332.0 560.4L330.0 560.3L328.5 560.0L327.0 559.5L325.5 558.6L324.5 557.9L323.4 556.6L322.7 555.6L322.2 554.1L322.0 553.1L322.1 551.6L322.5 550.1L323.4 548.6L324.3 547.6L325.5 546.7L327.0 545.9L328.5 545.3L330.5 545.0L332.5 545.0L334.5 545.4L336.5 546.2L338.0 547.2L339.4 548.6L340.2 550.1L340.7 551.6L340.8 553.1L340.5 554.6L339.8 556.1L338.6 557.6L337.0 558.9L336.0 559.4L335.0 559.8L333.5 560.2ZM341.5 622.7L340.5 622.6L340.0 622.3L339.0 621.5L337.9 620.1L335.5 616.3L335.0 615.6L334.3 615.1L333.5 614.8L333.0 614.8L332.0 614.9L327.5 616.3L325.0 617.0L323.5 617.3L322.0 617.4L319.0 617.2L315.0 617.4L312.5 617.3L311.0 617.4L304.0 618.0L300.0 618.7L298.5 618.9L289.5 618.3L283.0 617.4L277.5 617.3L275.5 616.9L272.5 615.8L269.0 614.2L267.2 613.1L265.7 611.6L264.4 609.6L263.7 608.1L263.4 607.1L263.2 605.6L263.3 604.1L263.5 603.1L264.0 601.6L264.8 600.1L265.6 599.1L267.1 597.6L268.0 596.8L269.5 595.9L271.0 595.2L273.5 594.3L277.5 593.2L279.5 592.9L281.0 592.7L283.5 592.7L288.0 593.1L291.5 593.2L293.5 593.0L296.0 592.4L300.5 590.7L302.5 590.4L304.0 590.4L306.5 590.7L315.5 592.6L323.0 594.7L327.0 596.3L330.5 596.9L332.5 597.6L333.5 597.8L334.0 597.6L334.5 597.1L335.0 596.2L336.6 590.6L337.3 589.1L337.8 588.1L339.0 586.7L340.0 585.8L341.0 585.4L342.0 585.3L343.0 585.7L344.0 586.7L344.8 588.1L345.8 590.6L346.7 594.1L348.2 600.6L348.6 603.6L348.8 606.1L348.7 607.6L348.3 609.6L346.6 615.6L345.5 618.6L344.5 620.6L343.6 621.6L342.5 622.4L341.5 622.7ZM333.5 561.2L331.5 561.4L329.5 561.2L327.5 560.7L326.0 560.1L324.5 559.2L323.2 558.1L322.0 556.6L321.3 555.1L320.8 553.6L320.8 552.1L321.1 550.6L321.7 549.1L322.8 547.6L323.9 546.6L325.5 545.5L327.0 544.8L329.0 544.3L331.5 544.0L333.5 544.2L335.5 544.7L337.5 545.7L339.0 546.7L340.3 548.1L340.9 549.1L341.4 550.1L341.8 551.6L341.9 552.6L341.8 553.6L341.6 554.6L341.3 555.6L340.4 557.1L339.0 558.6L337.5 559.7L335.5 560.6L333.5 561.2ZM342.0 624.2L341.0 624.4L340.5 624.3L340.0 624.1L339.2 623.6L338.0 622.3L336.0 619.4L335.0 618.2L334.0 617.3L333.0 617.0L332.5 617.0L331.5 617.2L327.5 618.5L323.5 619.4L322.0 619.7L320.5 619.6L317.5 619.3L309.5 619.5L305.5 619.4L303.5 619.6L300.0 620.3L298.5 620.4L296.5 620.3L292.0 620.0L284.5 619.0L282.0 618.9L278.0 618.9L276.5 618.7L275.5 618.5L274.0 618.0L272.5 617.3L267.5 614.8L265.8 613.6L264.3 612.1L263.6 611.1L262.8 609.6L262.2 608.1L262.0 607.1L261.7 605.6L261.9 604.1L262.2 602.6L262.7 601.1L263.2 600.1L264.4 598.6L265.5 597.5L267.0 596.2L268.5 595.3L270.5 594.4L272.0 593.8L277.0 592.4L280.5 591.7L283.0 591.6L288.0 592.0L291.5 591.8L293.5 591.6L295.8 591.1L299.5 589.8L301.5 589.3L303.0 589.3L304.5 589.4L316.0 591.2L318.5 591.8L322.1 593.1L326.3 594.1L327.5 594.3L330.0 594.5L332.5 594.9L333.0 594.9L333.5 594.7L334.0 594.3L334.5 593.5L336.6 588.6L337.5 587.1L338.5 585.7L339.5 584.6L340.5 583.9L341.5 583.6L342.5 583.8L343.5 584.4L344.0 584.8L344.6 585.6L345.4 587.1L346.3 589.6L346.8 591.6L348.8 600.6L349.3 604.1L349.3 606.6L349.2 608.1L348.8 610.1L347.3 616.1L346.1 619.6L345.4 621.1L344.5 622.4L343.5 623.4L343.0 623.8L342.0 624.2ZM334.0 562.1L332.0 562.4L330.0 562.3L328.0 562.0L326.0 561.3L324.0 560.2L322.6 559.1L321.3 557.6L320.3 556.1L319.7 554.6L319.4 552.6L319.5 551.1L320.0 549.6L320.8 548.1L322.2 546.6L323.5 545.5L325.5 544.4L326.5 543.9L328.0 543.5L330.0 543.1L332.5 543.1L334.0 543.3L335.0 543.5L336.0 543.8L337.5 544.5L339.5 545.8L341.0 547.3L341.6 548.1L342.2 549.1L342.6 550.1L342.9 551.1L343.0 553.1L342.9 554.1L342.7 555.1L342.3 556.1L341.7 557.1L340.5 558.7L339.5 559.6L338.5 560.4L336.5 561.4L335.0 561.9L334.0 562.1ZM338.3 624.6L337.4 623.6L336.0 621.7L335.0 620.6L334.0 619.9L333.0 619.6L332.0 619.7L329.0 620.4L325.5 621.0L323.0 621.6L322.0 621.8L321.0 621.9L317.0 621.4L310.0 621.6L305.0 621.3L303.5 621.4L299.5 621.9L295.0 621.9L293.0 621.8L287.0 620.9L285.5 620.9L282.5 621.0L281.0 621.0L277.5 620.7L275.5 620.4L274.0 619.9L272.0 619.0L268.8 617.1L264.2 614.6L263.0 613.7L262.3 613.1L261.5 612.1L260.9 611.1L260.3 609.6L259.9 608.6L259.6 607.1L259.6 606.1L259.6 605.1L259.9 604.1L260.8 601.1L261.6 599.6L262.9 598.1L265.5 595.9L267.0 594.9L269.0 593.8L272.0 592.7L276.5 591.4L279.0 590.8L282.0 590.4L283.5 590.4L287.5 590.7L289.0 590.6L291.0 590.4L293.4 590.1L295.0 589.8L300.0 588.3L301.0 588.2L302.5 588.1L304.5 588.2L310.6 589.1L317.5 589.9L319.0 590.3L322.0 591.5L323.5 591.9L332.5 592.2L333.0 592.1L333.5 591.8L334.0 591.4L334.5 590.7L336.2 587.6L337.4 585.6L339.0 583.4L339.5 582.9L340.5 582.2L341.5 582.0L342.0 582.1L343.0 582.4L343.5 582.8L344.5 583.8L345.4 585.1L346.2 587.1L347.3 590.6L349.2 599.6L349.7 602.6L350.0 605.1L350.0 607.1L349.7 609.1L348.2 615.6L347.4 618.6L346.9 620.1L346.2 621.6L345.3 623.1L344.0 624.6M334.5 563.2L332.5 563.5L330.0 563.5L327.5 563.0L325.5 562.4L323.5 561.3L321.9 560.1L320.4 558.6L319.7 557.6L319.1 556.6L318.2 554.6L317.9 553.1L317.8 552.1L317.9 551.1L318.3 549.6L319.1 548.1L320.3 546.6L322.0 545.1L324.0 543.8L326.5 542.8L329.0 542.2L330.5 542.0L332.0 542.0L333.5 542.1L335.0 542.4L337.5 543.3L338.5 543.8L340.0 544.8L341.0 545.6L342.0 546.6L342.7 547.6L343.3 548.6L343.7 549.6L344.1 551.1L344.3 553.1L344.2 554.1L343.8 555.6L343.4 556.6L342.9 557.6L342.2 558.6L341.3 559.6L339.5 561.1L338.5 561.7L337.0 562.4L334.5 563.2ZM336.5 624.6L335.5 623.5L334.5 622.7L334.0 622.5L333.0 622.2L332.0 622.3L329.5 622.7L326.5 623.0L323.0 623.8L321.5 623.9L320.5 623.9L316.5 623.4L310.0 623.6L305.5 623.3L294.5 623.8L293.0 623.7L289.0 622.9L287.5 622.8L286.0 623.0L283.5 623.6L282.5 623.7L281.0 623.5L276.0 622.5L273.5 621.8L271.5 621.0L270.0 620.2L266.5 618.1L265.4 617.6L262.0 616.4L261.0 615.9L259.8 615.1L258.7 614.1L257.9 613.1L257.3 612.1L256.2 610.1L255.8 609.1L255.4 608.1L255.3 607.1L255.5 606.1L256.1 604.6L257.5 602.4L259.1 599.6L260.4 598.1L262.0 596.8L265.5 594.3L267.5 593.1L270.5 592.0L275.5 590.4L279.0 589.5L282.0 589.0L283.5 589.0L287.5 589.2L289.5 589.1L294.5 588.2L299.0 587.2L300.5 586.9L302.0 586.9L304.0 587.0L313.5 588.1L318.0 588.4L319.5 588.7L322.0 589.7L323.5 590.0L324.5 590.1L327.5 589.9L330.5 590.1L332.0 590.1L333.0 589.9L333.5 589.6L334.0 589.1L335.0 587.8L337.8 583.1L339.0 581.7L340.0 580.9L340.5 580.6L341.5 580.4L342.0 580.5L343.0 580.9L343.5 581.2L344.5 582.2L345.2 583.1L345.8 584.1L346.7 586.1L347.6 589.1L348.2 591.6L349.0 595.6L350.2 601.1L350.7 605.1L350.8 607.1L350.6 608.6L348.7 617.6L347.9 620.1L347.3 621.6L346.5 623.1L345.5 624.6M333.5 564.7L331.0 564.8L329.5 564.7L328.0 564.5L325.5 563.8L323.5 562.9L321.5 561.6L320.4 560.6L319.4 559.6L317.9 557.6L317.4 556.6L316.7 555.1L316.2 553.1L316.2 552.1L316.2 551.1L316.4 550.1L316.7 549.1L317.6 547.6L319.0 545.9L321.0 544.2L323.0 543.0L325.5 541.8L327.0 541.4L328.5 541.1L330.0 540.9L331.5 540.8L333.0 540.9L335.0 541.2L337.5 542.0L338.5 542.4L340.0 543.3L341.2 544.1L342.3 545.1L343.2 546.1L343.9 547.1L344.7 548.6L345.1 549.6L345.4 550.6L345.6 552.1L345.6 553.1L345.5 554.6L345.2 555.6L344.7 557.1L344.1 558.1L343.5 559.1L342.7 560.1L341.5 561.2L340.5 562.0L339.0 562.9L336.5 564.0L335.0 564.4L333.5 564.7ZM275.2 624.6L270.5 623.4L265.0 621.5L261.5 620.0L258.5 618.4L257.0 617.4L256.2 616.6L254.4 614.1L252.2 611.6L251.6 610.6L251.0 609.1L250.9 607.6L251.2 606.1L251.8 604.6L252.8 603.1L255.0 600.8L257.0 598.4L257.8 597.6L259.0 596.6L264.5 593.1L266.0 592.3L268.0 591.4L272.5 589.8L277.0 588.3L279.0 587.8L281.0 587.5L283.0 587.4L287.0 587.5L288.5 587.4L294.5 586.6L299.0 585.8L302.0 585.6L305.5 585.8L314.0 586.7L318.5 587.0L320.0 587.2L322.5 587.8L323.5 588.0L327.0 588.0L330.5 588.3L332.0 588.2L333.0 587.9L333.5 587.6L334.5 586.6L337.3 582.1L338.0 581.1L339.0 580.0L340.0 579.3L341.0 578.9L341.5 578.9L342.0 578.9L343.0 579.3L343.5 579.7L344.5 580.6L345.3 581.6L345.9 582.6L346.9 584.6L347.7 587.1L348.7 590.6L349.5 594.5L350.9 600.1L351.4 603.1L351.7 606.1L351.7 608.1L351.4 610.1L350.1 616.1L349.6 618.1L348.8 620.6L347.8 622.6L346.8 624.6M333.5 566.1L332.0 566.2L330.5 566.2L327.5 565.9L326.0 565.5L324.5 565.0L322.0 563.8L320.5 562.7L319.5 561.9L318.5 560.9L317.5 559.7L316.7 558.6L315.8 557.1L315.2 555.6L314.8 554.6L314.6 553.6L314.4 552.1L314.6 550.1L314.9 549.1L315.3 548.1L316.2 546.6L317.1 545.6L318.1 544.6L320.5 542.8L323.0 541.4L324.5 540.8L326.0 540.3L327.5 539.9L329.0 539.7L331.0 539.5L332.5 539.6L334.0 539.7L335.5 540.0L337.0 540.4L339.0 541.2L340.5 542.0L341.5 542.7L342.7 543.6L343.7 544.6L344.6 545.6L345.6 547.1L346.3 548.6L346.7 549.6L347.0 551.1L347.1 552.6L347.1 554.1L346.8 555.6L346.3 557.1L345.9 558.1L345.3 559.1L344.2 560.6L343.3 561.6L342.0 562.7L341.0 563.5L339.5 564.3L337.0 565.4L335.0 565.9L333.5 566.1ZM260.4 624.6L259.0 624.1L258.2 623.6L256.0 621.4L253.9 619.6L252.9 618.6L249.9 615.1L249.1 614.1L248.4 612.6L248.1 611.1L247.8 608.1L247.8 606.6L247.9 605.6L248.2 604.6L248.8 603.1L249.7 601.6L250.5 600.7L252.8 598.6L254.8 596.6L256.2 595.6L263.0 591.9L266.5 590.3L271.5 588.3L274.0 587.4L277.5 586.4L280.0 585.9L282.0 585.8L288.0 585.6L294.5 584.9L299.5 584.3L302.0 584.2L307.5 584.5L314.5 585.2L319.5 585.4L323.5 586.0L327.0 586.1L330.0 586.5L331.0 586.5L332.0 586.4L333.0 586.0L334.0 585.2L335.0 583.9L337.4 580.1L338.7 578.6L339.5 577.9L340.0 577.6L340.5 577.4L341.5 577.2L342.0 577.3L343.0 577.7L344.0 578.5L344.5 579.1L346.0 581.1L347.3 583.6L348.2 586.1L349.3 590.1L350.5 595.2L352.1 601.1L352.7 604.6L352.9 607.1L352.9 609.1L351.4 616.6L350.8 618.6L350.2 620.1L349.3 622.1L348.0 624.6M335.0 567.6L333.5 567.8L331.5 567.9L328.5 567.8L325.5 567.1L324.0 566.6L322.5 566.0L320.0 564.5L318.5 563.3L317.5 562.4L316.5 561.3L315.6 560.1L314.6 558.6L313.9 557.1L313.0 554.6L312.8 553.1L312.7 552.1L312.9 550.1L313.3 548.6L313.7 547.6L314.2 546.6L315.0 545.5L316.0 544.4L317.0 543.4L319.5 541.6L321.0 540.7L322.5 539.9L324.0 539.3L326.0 538.7L327.5 538.4L329.5 538.1L331.5 538.0L333.5 538.2L335.0 538.4L337.0 538.9L338.5 539.4L340.5 540.3L342.0 541.2L343.5 542.3L344.9 543.6L345.8 544.6L346.9 546.1L347.7 547.6L348.3 549.1L348.6 550.6L348.8 552.1L348.8 554.1L348.5 555.6L348.1 557.1L347.5 558.6L346.6 560.1L345.5 561.6L344.5 562.8L343.0 564.1L341.5 565.2L340.0 566.1L338.5 566.8L336.5 567.3L335.0 567.6ZM255.2 624.6L254.0 623.7L251.0 621.6L249.6 620.1L246.5 616.2L245.8 615.1L245.2 613.6L244.9 612.1L244.9 607.6L244.9 605.6L245.4 602.6L246.2 600.1L246.7 599.1L247.5 598.1L250.0 596.2L252.0 594.4L253.0 593.7L254.0 593.2L256.5 592.5L258.0 592.0L262.5 589.9L267.2 588.1L272.0 585.9L275.5 584.9L279.0 584.3L294.0 583.3L299.5 582.8L302.0 582.7L308.0 582.9L315.0 583.6L321.5 583.6L326.0 584.0L330.0 584.6L331.5 584.6L332.5 584.3L333.0 584.0L334.0 583.1L335.0 581.8L337.5 578.1L339.0 576.5L340.0 575.8L341.0 575.5L341.5 575.5L342.5 575.8L343.0 576.0L343.5 576.4L344.5 577.4L346.1 579.6L347.6 582.6L348.7 585.6L350.3 590.6L351.5 595.0L353.2 600.1L353.7 602.1L354.2 604.6L354.5 607.1L354.5 609.1L354.2 611.6L353.3 616.1L352.7 618.1L351.8 620.1L349.3 624.6" stroke-width="1.0"/>
<path d="M342.0 607.2L341.5 607.2L341.3 607.1L341.0 606.7L340.8 606.1L340.8 605.6L341.0 605.1L341.5 604.4L342.0 604.4L342.2 604.6L342.6 605.1L342.7 605.6L342.7 606.1L342.5 606.6L342.0 607.2ZM342.5 608.1L342.0 608.5L341.5 608.6L341.0 608.4L340.5 607.8L340.2 607.1L340.1 606.1L340.3 605.1L340.7 604.1L341.0 603.6L341.5 603.0L342.0 603.1L342.5 603.5L343.0 604.2L343.4 605.1L343.4 605.6L343.3 606.6L343.0 607.4L342.5 608.1ZM293.5 609.8L293.0 610.0L292.0 610.1L291.0 609.9L290.4 609.6L291.1 609.1L292.5 609.0L293.5 609.2L293.9 609.6L293.5 609.8ZM331.5 552.9L331.1 552.6L331.5 552.3L331.8 552.6L331.5 552.9ZM342.0 609.7L341.5 609.8L341.0 609.7L340.5 609.4L340.0 608.7L339.8 608.1L339.5 606.6L339.6 605.1L339.9 604.1L340.7 602.6L341.0 602.2L341.5 601.9L342.0 601.9L342.5 602.2L343.2 603.1L343.7 604.1L344.1 605.6L343.9 607.1L343.5 607.9L343.0 608.7L342.5 609.3L342.0 609.7ZM293.0 610.7L291.5 610.8L289.6 610.6L289.0 610.4L288.5 610.1L288.2 609.6L288.4 609.1L289.0 608.5L290.0 608.1L291.0 608.0L293.0 608.0L295.0 608.3L296.0 608.6L296.5 609.1L296.3 609.6L295.3 610.1L293.0 610.7ZM332.0 553.6L331.5 553.7L331.0 553.7L330.5 553.4L330.3 553.1L330.1 552.6L330.3 552.1L330.5 551.9L331.0 551.6L331.5 551.5L332.1 551.6L332.7 552.1L332.9 552.6L332.7 553.1L332.5 553.3L332.0 553.6ZM280.5 602.6L279.5 602.8L279.0 602.8L278.5 602.7L278.0 602.5L277.5 602.0L277.3 601.6L277.1 601.1L277.2 600.6L277.6 600.1L278.3 599.6L279.0 599.4L280.0 599.3L281.0 599.3L282.5 599.5L283.5 599.9L284.0 600.1L284.3 600.6L284.0 601.1L283.2 601.6L280.5 602.6ZM309.0 606.2L307.5 606.4L306.0 606.3L304.9 606.1L304.0 605.6L304.2 605.1L304.3 604.6L304.2 604.1L304.0 603.6L302.9 602.1L302.7 601.6L302.6 601.1L303.0 600.6L303.5 600.3L304.0 600.2L305.5 600.2L306.5 600.5L307.0 600.9L308.4 603.1L310.4 605.1L310.7 605.6L309.0 606.2ZM342.0 610.8L341.5 611.0L341.0 611.0L340.5 610.7L340.0 610.2L339.6 609.6L339.2 608.6L338.9 607.6L338.8 606.6L338.8 605.6L338.9 605.1L339.6 603.1L340.5 601.4L341.0 600.8L341.5 600.5L342.0 600.6L342.5 600.9L343.5 602.1L344.2 603.6L344.5 604.6L344.6 605.6L344.5 607.1L343.9 608.6L343.0 609.9L342.5 610.5L342.0 610.8ZM323.0 605.7L322.0 606.0L321.0 606.1L318.0 605.5L317.5 605.5L316.5 605.6L316.4 605.6L316.1 605.1L316.5 604.7L317.0 604.5L318.0 604.4L319.5 604.4L320.7 604.6L322.0 605.0L323.1 605.6L323.0 605.7ZM277.0 606.2L276.0 606.5L275.0 606.5L274.5 606.3L274.2 606.1L274.0 605.6L274.5 605.0L275.5 604.7L276.5 604.6L277.5 604.8L278.0 605.1L278.4 605.6L277.0 606.2ZM294.0 611.1L292.0 611.4L290.0 611.4L288.5 611.2L288.0 611.0L287.2 610.6L286.8 610.1L286.7 609.6L286.8 609.1L288.0 607.1L288.1 606.6L287.7 605.6L288.5 605.1L289.0 604.9L289.5 604.8L290.5 604.9L293.0 605.5L296.2 605.6L296.2 606.1L296.7 606.6L298.5 608.1L299.0 608.6L299.3 609.1L299.2 609.6L298.5 610.1L297.5 610.4L294.0 611.1ZM332.5 554.4L332.0 554.5L331.0 554.5L330.5 554.4L330.0 554.1L329.5 553.6L329.2 553.1L329.1 552.6L329.2 552.1L329.5 551.6L330.0 551.1L330.5 550.9L331.0 550.7L332.0 550.7L332.9 551.1L333.5 551.6L333.8 552.1L333.8 552.6L333.8 553.1L333.5 553.6L333.0 554.1L332.5 554.4ZM290.5 612.1L288.5 612.0L287.0 611.6L286.1 611.1L285.5 610.6L285.1 610.1L285.0 609.6L285.1 609.1L286.2 607.1L286.2 606.6L286.0 605.6L286.7 604.6L287.0 604.1L287.1 603.6L286.9 603.1L286.5 602.8L286.0 602.7L285.0 602.7L283.5 603.2L282.9 603.6L282.4 604.1L282.1 604.6L282.1 605.1L282.2 605.6L281.0 606.6L280.0 607.2L279.0 607.6L277.5 608.1L276.0 608.4L274.5 608.4L273.5 608.0L272.9 607.6L272.1 606.6L271.6 605.6L271.9 604.6L272.5 603.5L273.5 602.1L274.7 600.6L275.9 599.6L277.0 598.9L278.0 598.6L279.5 598.3L281.0 598.2L283.0 598.4L284.5 598.6L286.1 599.1L287.2 599.6L287.9 600.1L288.3 600.6L289.0 602.1L289.4 602.6L290.8 603.6L292.0 604.2L293.0 604.4L294.0 604.5L297.0 604.4L298.0 604.6L299.5 605.2L300.5 605.4L301.0 605.3L301.4 605.1L301.7 604.6L301.7 604.1L301.5 603.5L300.3 602.1L300.1 601.6L300.0 601.1L300.1 600.6L300.4 600.1L301.0 599.6L302.0 599.2L305.0 598.7L306.0 598.7L307.0 598.9L307.5 599.3L308.3 600.1L309.4 601.6L310.0 602.3L310.5 602.7L311.5 603.3L312.5 603.6L313.5 603.6L318.0 602.6L319.0 602.6L320.0 602.7L321.5 603.2L323.0 603.9L324.0 604.6L324.6 605.1L324.9 605.6L324.0 606.4L323.0 606.9L321.5 607.3L320.5 607.3L317.0 606.7L313.5 606.6L312.0 606.8L309.0 607.5L305.0 607.8L304.0 608.1L303.5 608.3L303.0 608.6L301.7 610.1L301.0 610.6L300.0 611.0L299.0 611.2L295.5 611.5L293.0 611.9L290.5 612.1ZM341.5 612.1L341.0 612.1L340.5 611.9L340.0 611.5L339.5 610.9L339.0 610.1L338.3 608.1L338.1 607.1L338.1 605.6L338.8 603.1L340.0 600.5L340.5 599.7L341.0 599.1L341.5 598.8L342.0 598.8L342.5 599.1L343.0 599.8L344.3 602.1L344.7 603.1L345.0 604.1L345.1 605.1L345.1 606.1L345.0 607.1L344.7 608.1L343.7 610.1L343.0 611.1L342.5 611.7L342.0 612.0L341.5 612.1ZM332.5 555.2L332.0 555.3L331.0 555.3L330.0 555.1L329.2 554.6L328.5 553.8L328.2 553.1L328.2 552.1L328.4 551.6L328.7 551.1L329.5 550.4L330.0 550.2L331.0 549.9L332.0 549.9L332.5 550.0L333.0 550.2L333.7 550.6L334.2 551.1L334.5 551.5L334.7 552.1L334.8 552.6L334.7 553.1L334.6 553.6L334.3 554.1L333.7 554.6L333.0 555.0L332.5 555.2ZM342.0 613.2L341.5 613.3L341.0 613.3L340.5 613.1L340.0 612.7L339.5 612.3L339.0 611.6L338.2 610.1L337.7 608.6L337.4 607.1L337.2 605.6L338.2 602.6L339.8 599.1L341.0 596.9L341.5 596.3L342.0 596.2L342.5 596.3L343.0 597.0L344.8 601.6L345.4 603.6L345.7 605.6L345.6 606.6L345.4 607.6L344.7 609.6L343.9 611.1L343.2 612.1L342.5 612.9L342.0 613.2ZM292.5 612.7L289.5 612.8L288.5 612.7L287.0 612.4L285.5 611.9L282.5 610.3L281.5 609.9L280.5 609.7L279.0 609.6L275.5 609.9L274.5 609.8L273.5 609.6L272.5 609.1L272.0 608.8L271.3 608.1L270.5 607.1L269.7 605.6L269.9 604.6L270.3 603.6L271.3 602.1L272.1 601.1L273.2 600.1L274.5 599.2L275.5 598.6L277.0 598.0L278.0 597.7L280.0 597.5L282.5 597.4L285.0 597.8L287.5 598.4L288.5 598.8L289.6 599.6L290.1 600.1L291.5 602.0L292.1 602.6L293.0 603.0L294.0 603.2L294.7 603.1L295.5 602.9L296.1 602.6L296.8 602.1L297.5 601.2L298.8 599.1L299.3 598.6L300.0 598.1L300.5 597.9L301.5 597.6L306.0 597.2L307.0 597.4L308.0 598.0L308.7 598.6L310.5 600.9L311.4 601.6L312.0 601.9L313.0 602.2L314.0 602.2L315.0 602.1L318.5 601.4L319.5 601.3L320.5 601.5L322.0 602.0L325.0 603.7L326.0 604.6L326.3 605.1L326.5 605.6L324.0 607.6L323.0 608.1L322.0 608.4L321.0 608.5L320.0 608.5L317.4 608.1L316.0 608.0L312.0 608.5L309.5 608.9L306.7 609.1L306.0 609.2L305.0 609.6L302.5 611.2L301.0 611.9L299.5 612.1L296.0 612.2L292.5 612.7ZM332.0 556.1L330.5 556.1L329.5 555.7L329.0 555.5L327.9 554.6L327.4 553.6L327.2 553.1L327.2 552.1L327.6 551.1L328.5 550.1L329.0 549.8L330.0 549.3L331.0 549.1L332.0 549.1L333.0 549.3L333.5 549.5L334.5 550.1L335.0 550.6L335.6 551.6L335.7 552.1L335.7 553.1L335.4 554.1L335.0 554.6L334.5 555.1L333.5 555.7L333.0 555.9L332.0 556.1ZM342.5 614.1L342.0 614.4L341.5 614.5L341.0 614.4L340.5 614.3L339.6 613.6L339.0 613.0L338.2 611.6L337.7 610.6L336.0 605.6L336.5 604.8L337.0 603.7L340.2 595.6L340.8 594.6L341.5 594.1L342.0 594.1L342.5 594.3L342.8 594.6L343.2 595.1L343.8 596.1L345.7 602.6L346.1 605.1L346.1 606.6L345.9 607.6L345.3 609.6L343.8 612.6L343.1 613.6L342.5 614.1ZM294.5 613.1L291.0 613.5L288.0 613.4L286.0 613.0L283.0 612.0L281.5 611.7L279.0 611.3L275.0 611.1L274.0 610.9L273.0 610.6L272.0 610.2L271.0 609.5L270.1 608.6L269.4 607.6L268.8 606.6L268.4 605.6L268.7 604.1L269.2 603.1L270.2 601.6L271.0 600.6L272.1 599.6L273.5 598.7L275.0 597.9L276.5 597.4L278.0 597.0L280.0 596.7L282.5 596.7L284.5 596.9L287.5 597.5L289.0 598.0L290.0 598.5L290.9 599.1L293.0 600.8L293.5 601.0L294.0 601.1L294.5 601.0L295.5 600.5L298.4 597.6L299.1 597.1L300.0 596.6L301.0 596.2L302.0 596.0L305.0 595.8L306.5 596.0L307.5 596.3L308.1 596.6L309.3 597.6L311.5 600.1L312.5 600.7L313.5 601.0L314.5 601.0L319.0 600.2L320.0 600.2L321.0 600.3L322.0 600.7L324.7 602.1L327.0 603.1L327.8 603.6L328.2 604.1L328.4 604.6L328.5 605.6L327.0 606.4L325.0 608.1L324.0 608.7L323.0 609.2L321.5 609.7L319.5 610.0L314.5 610.0L307.5 610.6L306.0 610.9L303.0 612.3L301.0 612.9L299.5 613.0L296.5 613.0L294.5 613.1ZM333.5 556.6L332.0 556.9L331.0 556.9L330.0 556.8L328.5 556.2L327.7 555.6L327.2 555.1L326.8 554.6L326.4 553.6L326.2 553.1L326.3 552.1L326.6 551.1L326.8 550.6L327.7 549.6L329.0 548.8L330.0 548.5L331.0 548.3L332.0 548.3L333.0 548.5L334.0 548.8L335.0 549.4L335.7 550.1L336.1 550.6L336.6 551.6L336.7 552.6L336.6 553.6L336.1 554.6L335.5 555.4L334.5 556.2L333.5 556.6ZM341.5 615.7L341.0 615.7L340.0 615.3L339.0 614.4L337.6 612.1L336.0 608.6L335.5 607.7L335.0 607.1L334.0 606.4L333.3 606.1L332.5 605.9L331.0 606.0L330.0 606.2L329.0 606.6L328.0 607.1L325.6 609.1L324.5 609.8L322.0 610.8L319.5 611.5L317.5 611.7L313.0 611.5L308.5 612.0L306.5 612.4L303.0 613.4L300.5 613.9L299.0 613.9L296.0 613.8L291.5 614.2L289.5 614.2L288.0 614.1L286.5 613.9L282.0 612.9L275.0 612.2L273.5 611.9L272.0 611.3L271.0 610.8L270.1 610.1L268.8 608.6L268.1 607.6L267.6 606.6L267.3 605.6L267.4 605.1L267.6 604.1L268.3 602.6L269.3 601.1L270.5 599.7L271.5 598.9L273.0 598.0L274.5 597.3L276.0 596.8L278.0 596.3L280.0 596.0L282.0 595.9L283.5 596.0L286.0 596.4L288.5 596.9L290.0 597.4L293.0 598.7L294.0 598.8L294.5 598.7L295.5 598.2L298.0 596.4L300.0 595.3L302.0 594.7L304.0 594.5L306.5 594.8L307.5 595.1L308.5 595.6L309.9 596.6L312.0 598.7L312.5 599.1L313.5 599.5L314.0 599.6L315.0 599.7L319.0 599.0L320.0 598.9L321.0 599.1L322.0 599.4L325.4 601.1L328.0 601.7L329.1 602.1L329.9 602.6L331.5 604.4L332.0 604.8L333.0 604.9L334.0 604.8L335.0 604.5L335.5 604.1L336.0 603.5L337.0 601.6L338.0 599.1L339.8 593.6L340.0 593.1L340.5 592.5L341.0 592.2L341.5 592.2L342.0 592.4L343.0 593.2L343.7 594.1L344.2 595.1L344.8 596.6L346.2 602.1L346.5 604.1L346.6 605.6L346.6 607.1L346.2 608.6L344.4 613.1L343.8 614.1L343.0 615.0L342.5 615.4L341.5 615.7ZM333.0 557.6L332.0 557.8L331.0 557.8L330.0 557.6L329.0 557.4L328.0 556.9L327.0 556.2L326.4 555.6L325.7 554.6L325.3 553.6L325.2 553.1L325.3 552.1L325.5 551.1L325.7 550.6L326.4 549.6L327.0 549.1L328.0 548.4L329.0 547.9L330.5 547.6L332.0 547.5L333.5 547.8L334.5 548.1L335.5 548.7L336.5 549.6L337.2 550.6L337.4 551.1L337.7 552.1L337.7 553.1L337.4 554.1L336.9 555.1L336.1 556.1L335.0 556.9L334.0 557.3L333.0 557.6ZM341.5 617.1L340.5 617.0L340.0 616.8L339.1 616.1L338.4 615.1L336.0 610.8L335.0 609.4L334.5 608.8L333.5 608.1L332.5 607.6L332.0 607.5L331.5 607.5L330.5 607.6L329.5 608.0L328.8 608.6L327.2 610.1L326.0 610.7L321.5 612.3L319.5 612.9L317.5 613.0L313.5 612.8L311.5 612.9L308.0 613.4L303.0 614.4L300.0 614.9L295.5 614.8L291.5 615.0L289.0 615.0L287.0 614.8L282.5 614.0L278.0 613.7L276.0 613.4L273.5 612.8L271.5 612.2L270.5 611.6L269.7 611.1L269.0 610.5L268.2 609.6L267.3 608.1L266.8 607.1L266.3 605.6L266.4 605.1L266.7 603.6L267.2 602.6L268.1 601.1L269.3 599.6L270.4 598.6L271.5 597.9L273.5 596.9L275.0 596.3L277.0 595.8L279.0 595.4L281.0 595.2L282.5 595.2L284.0 595.3L288.0 596.0L292.5 597.0L293.5 597.1L294.0 597.1L295.0 596.8L298.5 594.9L300.5 594.0L302.0 593.6L303.5 593.4L304.5 593.4L306.0 593.6L307.0 593.9L308.5 594.4L309.5 594.9L310.5 595.5L313.0 597.5L314.0 597.9L314.5 598.1L315.5 598.1L319.5 597.7L320.5 597.8L321.5 597.9L322.5 598.3L324.9 599.6L326.0 600.1L329.0 600.6L330.0 600.9L331.0 601.4L332.5 602.5L333.0 602.8L334.0 603.0L334.5 602.9L335.0 602.7L335.6 602.1L336.5 600.6L337.0 599.5L337.8 597.1L338.7 593.1L339.2 591.6L339.5 591.1L340.0 590.6L340.5 590.3L341.0 590.2L341.5 590.3L342.0 590.5L343.0 591.5L344.0 592.9L344.8 594.6L345.3 596.1L346.8 602.1L347.0 604.1L347.2 605.6L347.1 607.1L346.8 608.6L344.8 614.1L344.2 615.1L343.5 616.0L342.5 616.8L341.5 617.1ZM331.5 558.6L330.0 558.5L329.0 558.3L328.0 557.9L326.5 557.0L325.6 556.1L324.8 555.1L324.3 553.6L324.2 552.6L324.3 551.6L324.9 550.1L325.6 549.1L326.5 548.3L328.0 547.4L329.0 547.0L330.0 546.8L331.5 546.7L333.0 546.8L334.5 547.2L335.5 547.7L336.5 548.4L337.7 549.6L338.3 550.6L338.6 551.6L338.7 552.6L338.5 554.1L338.0 555.1L337.3 556.1L336.5 556.9L335.0 557.8L334.0 558.2L333.0 558.5L331.5 558.6ZM342.0 618.8L341.0 618.9L340.0 618.5L339.5 618.2L339.0 617.7L338.2 616.6L336.5 613.5L335.5 612.1L335.0 611.6L334.0 610.9L333.0 610.6L332.5 610.5L331.5 610.8L329.5 612.1L328.5 612.5L324.5 613.1L320.5 614.0L317.5 614.3L313.2 614.1L311.5 614.2L301.0 615.9L299.5 616.0L295.0 615.9L290.5 616.0L288.5 615.9L282.5 615.0L278.0 614.8L276.0 614.5L273.5 613.9L271.0 613.0L269.5 612.2L268.5 611.4L267.3 610.1L266.1 608.1L265.7 607.1L265.3 605.6L265.5 604.6L265.7 603.6L266.3 602.1L267.2 600.6L268.5 599.1L269.5 598.2L270.5 597.5L272.0 596.7L274.0 595.9L276.0 595.3L278.0 594.8L280.0 594.5L281.5 594.4L283.5 594.5L292.0 595.7L293.5 595.7L294.5 595.5L295.5 595.1L300.5 592.9L302.0 592.5L303.0 592.4L304.0 592.4L305.5 592.5L308.5 593.3L310.5 594.1L313.5 595.7L315.0 596.2L316.5 596.4L320.0 596.5L321.5 596.7L323.0 597.3L326.0 598.8L327.0 599.1L330.0 599.6L331.0 599.9L333.2 601.1L334.0 601.3L334.5 601.2L335.0 600.9L335.5 600.4L336.0 599.6L336.5 598.4L337.0 596.7L337.9 592.1L338.3 591.1L338.7 590.1L339.5 589.2L340.0 588.8L340.5 588.5L341.0 588.4L341.5 588.5L342.0 588.7L342.5 589.0L343.5 590.1L344.3 591.6L345.2 593.6L345.8 595.6L347.2 601.6L347.6 604.1L347.7 605.6L347.6 607.1L347.3 608.6L345.7 613.6L345.2 615.1L344.5 616.4L343.5 617.7L343.0 618.2L342.0 618.8ZM334.0 559.1L332.5 559.4L331.0 559.5L329.5 559.3L328.0 558.9L327.0 558.4L325.5 557.4L324.7 556.6L324.0 555.6L323.5 554.6L323.2 553.6L323.2 552.1L323.3 551.1L323.7 550.1L324.4 549.1L325.3 548.1L326.5 547.2L328.0 546.4L329.5 546.0L331.0 545.8L333.0 545.9L335.0 546.5L336.5 547.3L338.0 548.5L338.8 549.6L339.3 550.6L339.7 552.1L339.6 553.6L339.2 555.1L338.2 556.6L337.0 557.7L335.5 558.6L334.0 559.1ZM342.0 620.8L341.0 620.8L340.0 620.4L339.5 620.0L338.6 619.1L338.0 618.3L336.0 614.7L335.5 614.0L335.0 613.5L334.5 613.2L333.5 612.9L333.0 612.9L332.0 613.1L328.5 614.3L323.0 615.3L316.5 615.7L313.0 615.5L311.5 615.6L307.0 616.3L303.9 616.6L299.0 617.4L297.5 617.4L294.0 617.1L289.0 617.0L282.5 616.1L278.0 616.0L276.0 615.7L273.5 615.0L270.5 613.8L268.5 612.7L267.2 611.6L266.4 610.6L265.7 609.6L264.8 607.6L264.3 605.6L264.6 603.6L265.1 602.1L265.9 600.6L267.1 599.1L268.0 598.1L269.0 597.3L270.5 596.4L272.0 595.8L274.5 594.9L278.5 593.9L281.5 593.6L283.5 593.7L287.2 594.1L291.5 594.4L293.5 594.4L294.8 594.1L296.0 593.7L300.5 591.9L302.0 591.5L303.0 591.4L304.5 591.4L307.0 591.8L309.5 592.5L316.3 594.6L321.5 595.5L323.5 596.2L326.5 597.7L327.5 598.0L330.0 598.3L331.0 598.6L333.0 599.5L333.5 599.6L334.0 599.6L334.5 599.4L335.0 599.0L335.5 598.2L335.8 597.6L336.1 596.6L337.2 591.6L337.7 590.1L338.2 589.1L339.0 588.1L340.0 587.3L341.0 586.9L342.0 587.0L342.5 587.2L343.0 587.5L343.5 588.0L344.0 588.8L344.9 590.6L345.8 593.1L346.3 595.1L347.7 601.1L348.1 604.1L348.2 606.1L348.1 607.6L347.8 609.1L346.1 614.6L345.4 616.6L344.5 618.4L343.7 619.6L343.0 620.2L342.0 620.8Z" stroke-width="1.1"/>
</g>
<rect x="61.5" y="289.6" width="142.2" height="141.2" fill="none" stroke="#333" stroke-width="1"/>
<path d="M57.5 430.8H61.5M61.5 430.8V433.8M59.5 420.2H61.5M72.2 430.8V432.8M59.5 414.0H61.5M78.5 430.8V432.8M59.5 409.5H61.5M82.9 430.8V432.8M59.5 406.1H61.5M86.3 430.8V432.8M59.5 403.3H61.5M89.2 430.8V432.8M59.5 401.0H61.5M91.5 430.8V432.8M59.5 398.9H61.5M93.6 430.8V432.8M59.5 397.1H61.5M95.4 430.8V432.8M57.5 395.5H61.5M97.0 430.8V433.8M59.5 384.9H61.5M107.8 430.8V432.8M59.5 378.7H61.5M114.0 430.8V432.8M59.5 374.2H61.5M118.5 430.8V432.8M59.5 370.8H61.5M121.9 430.8V432.8M59.5 368.0H61.5M124.7 430.8V432.8M59.5 365.7H61.5M127.1 430.8V432.8M59.5 363.6H61.5M129.2 430.8V432.8M59.5 361.8H61.5M131.0 430.8V432.8M57.5 360.2H61.5M132.6 430.8V433.8M59.5 349.6H61.5M143.3 430.8V432.8M59.5 343.4H61.5M149.6 430.8V432.8M59.5 338.9H61.5M154.0 430.8V432.8M59.5 335.5H61.5M157.4 430.8V432.8M59.5 332.7H61.5M160.3 430.8V432.8M59.5 330.4H61.5M162.6 430.8V432.8M59.5 328.3H61.5M164.7 430.8V432.8M59.5 326.5H61.5M166.5 430.8V432.8M57.5 324.9H61.5M168.1 430.8V433.8M59.5 314.3H61.5M178.9 430.8V432.8M59.5 308.1H61.5M185.1 430.8V432.8M59.5 303.6H61.5M189.6 430.8V432.8M59.5 300.2H61.5M193.0 430.8V432.8M59.5 297.4H61.5M195.8 430.8V432.8M59.5 295.1H61.5M198.2 430.8V432.8M59.5 293.0H61.5M200.3 430.8V432.8M59.5 291.2H61.5M202.1 430.8V432.8M57.5 289.6H61.5M203.7 430.8V433.8" stroke="#333" stroke-width="0.8" fill="none"/>
<g font-family="Liberation Serif, serif" font-size="11.6" fill="#111">
<text x="56.9" y="435.3" text-anchor="end">1</text>
<text x="61.3" y="446.8" text-anchor="middle">1</text>
<text x="56.9" y="400.0" text-anchor="end">10</text>
<text x="96.6" y="446.8" text-anchor="middle">10</text>
<text x="56.9" y="364.7" text-anchor="end">100</text>
<text x="131.9" y="446.8" text-anchor="middle">100</text>
<text x="56.9" y="329.4" text-anchor="end">1000</text>
<text x="167.2" y="446.8" text-anchor="middle">1000</text>
<text x="56.9" y="294.1" text-anchor="end">10000</text>
<text x="202.5" y="446.8" text-anchor="middle">10000</text>
</g>
<rect x="250.5" y="289.6" width="142.0" height="141.2" fill="none" stroke="#333" stroke-width="1"/>
<path d="M246.5 430.8H250.5M250.5 430.8V433.8M248.5 420.2H250.5M261.2 430.8V432.8M248.5 414.0H250.5M267.4 430.8V432.8M248.5 409.5H250.5M271.9 430.8V432.8M248.5 406.1H250.5M275.3 430.8V432.8M248.5 403.3H250.5M278.1 430.8V432.8M248.5 401.0H250.5M280.5 430.8V432.8M248.5 398.9H250.5M282.6 430.8V432.8M248.5 397.1H250.5M284.4 430.8V432.8M246.5 395.5H250.5M286.0 430.8V433.8M248.5 384.9H250.5M296.7 430.8V432.8M248.5 378.7H250.5M302.9 430.8V432.8M248.5 374.2H250.5M307.4 430.8V432.8M248.5 370.8H250.5M310.8 430.8V432.8M248.5 368.0H250.5M313.6 430.8V432.8M248.5 365.7H250.5M316.0 430.8V432.8M248.5 363.6H250.5M318.1 430.8V432.8M248.5 361.8H250.5M319.9 430.8V432.8M246.5 360.2H250.5M321.5 430.8V433.8M248.5 349.6H250.5M332.2 430.8V432.8M248.5 343.4H250.5M338.4 430.8V432.8M248.5 338.9H250.5M342.9 430.8V432.8M248.5 335.5H250.5M346.3 430.8V432.8M248.5 332.7H250.5M349.1 430.8V432.8M248.5 330.4H250.5M351.5 430.8V432.8M248.5 328.3H250.5M353.6 430.8V432.8M248.5 326.5H250.5M355.4 430.8V432.8M246.5 324.9H250.5M357.0 430.8V433.8M248.5 314.3H250.5M367.7 430.8V432.8M248.5 308.1H250.5M373.9 430.8V432.8M248.5 303.6H250.5M378.4 430.8V432.8M248.5 300.2H250.5M381.8 430.8V432.8M248.5 297.4H250.5M384.6 430.8V432.8M248.5 295.1H250.5M387.0 430.8V432.8M248.5 293.0H250.5M389.1 430.8V432.8M248.5 291.2H250.5M390.9 430.8V432.8M246.5 289.6H250.5M392.5 430.8V433.8" stroke="#333" stroke-width="0.8" fill="none"/>
<g font-family="Liberation Serif, serif" font-size="11.6" fill="#111">
<text x="244.5" y="435.9" text-anchor="end">1</text>
<text x="250.3" y="446.8" text-anchor="middle">1</text>
<text x="244.5" y="400.6" text-anchor="end">10</text>
<text x="285.6" y="446.8" text-anchor="middle">10</text>
<text x="244.5" y="365.3" text-anchor="end">100</text>
<text x="320.9" y="446.8" text-anchor="middle">100</text>
<text x="244.5" y="330.0" text-anchor="end">1000</text>
<text x="356.2" y="446.8" text-anchor="middle">1000</text>
<text x="244.5" y="294.7" text-anchor="end">10000</text>
<text x="391.5" y="446.8" text-anchor="middle">10000</text>
</g>
<rect x="62.0" y="477.4" width="141.5" height="141.2" fill="none" stroke="#333" stroke-width="1"/>
<path d="M58.0 618.6H62.0M62.0 618.6V621.6M60.0 608.0H62.0M72.6 618.6V620.6M60.0 601.8H62.0M78.9 618.6V620.6M60.0 597.3H62.0M83.3 618.6V620.6M60.0 593.9H62.0M86.7 618.6V620.6M60.0 591.1H62.0M89.5 618.6V620.6M60.0 588.8H62.0M91.9 618.6V620.6M60.0 586.7H62.0M93.9 618.6V620.6M60.0 584.9H62.0M95.8 618.6V620.6M58.0 583.3H62.0M97.4 618.6V621.6M60.0 572.7H62.0M108.0 618.6V620.6M60.0 566.5H62.0M114.3 618.6V620.6M60.0 562.0H62.0M118.7 618.6V620.6M60.0 558.6H62.0M122.1 618.6V620.6M60.0 555.8H62.0M124.9 618.6V620.6M60.0 553.5H62.0M127.3 618.6V620.6M60.0 551.4H62.0M129.3 618.6V620.6M60.0 549.6H62.0M131.1 618.6V620.6M58.0 548.0H62.0M132.8 618.6V621.6M60.0 537.4H62.0M143.4 618.6V620.6M60.0 531.2H62.0M149.6 618.6V620.6M60.0 526.7H62.0M154.0 618.6V620.6M60.0 523.3H62.0M157.5 618.6V620.6M60.0 520.5H62.0M160.3 618.6V620.6M60.0 518.2H62.0M162.6 618.6V620.6M60.0 516.1H62.0M164.7 618.6V620.6M60.0 514.3H62.0M166.5 618.6V620.6M58.0 512.7H62.0M168.1 618.6V621.6M60.0 502.1H62.0M178.8 618.6V620.6M60.0 495.9H62.0M185.0 618.6V620.6M60.0 491.4H62.0M189.4 618.6V620.6M60.0 488.0H62.0M192.9 618.6V620.6M60.0 485.2H62.0M195.7 618.6V620.6M60.0 482.9H62.0M198.0 618.6V620.6M60.0 480.8H62.0M200.1 618.6V620.6M60.0 479.0H62.0M201.9 618.6V620.6M58.0 477.4H62.0M203.5 618.6V621.6" stroke="#333" stroke-width="0.8" fill="none"/>
<g font-family="Liberation Serif, serif" font-size="11.6" fill="#111">
<text x="54.0" y="623.6" text-anchor="end">1</text>
<text x="61.8" y="633.1" text-anchor="middle">1</text>
<text x="54.0" y="588.3" text-anchor="end">10</text>
<text x="97.1" y="633.1" text-anchor="middle">10</text>
<text x="54.0" y="553.0" text-anchor="end">100</text>
<text x="132.4" y="633.1" text-anchor="middle">100</text>
<text x="54.0" y="517.7" text-anchor="end">1000</text>
<text x="167.7" y="633.1" text-anchor="middle">1000</text>
<text x="54.0" y="482.4" text-anchor="end">10000</text>
<text x="203.0" y="633.1" text-anchor="middle">10000</text>
</g>
<rect x="250.5" y="477.6" width="141.8" height="141.0" fill="none" stroke="#333" stroke-width="1"/>
<path d="M246.5 618.6H250.5M250.5 618.6V621.6M248.5 608.0H250.5M261.2 618.6V620.6M248.5 601.8H250.5M267.4 618.6V620.6M248.5 597.4H250.5M271.8 618.6V620.6M248.5 594.0H250.5M275.3 618.6V620.6M248.5 591.2H250.5M278.1 618.6V620.6M248.5 588.8H250.5M280.5 618.6V620.6M248.5 586.8H250.5M282.5 618.6V620.6M248.5 585.0H250.5M284.3 618.6V620.6M246.5 583.4H250.5M285.9 618.6V621.6M248.5 572.7H250.5M296.6 618.6V620.6M248.5 566.5H250.5M302.9 618.6V620.6M248.5 562.1H250.5M307.3 618.6V620.6M248.5 558.7H250.5M310.7 618.6V620.6M248.5 555.9H250.5M313.5 618.6V620.6M248.5 553.6H250.5M315.9 618.6V620.6M248.5 551.5H250.5M318.0 618.6V620.6M248.5 549.7H250.5M319.8 618.6V620.6M246.5 548.1H250.5M321.4 618.6V621.6M248.5 537.5H250.5M332.1 618.6V620.6M248.5 531.3H250.5M338.3 618.6V620.6M248.5 526.9H250.5M342.7 618.6V620.6M248.5 523.5H250.5M346.2 618.6V620.6M248.5 520.7H250.5M349.0 618.6V620.6M248.5 518.3H250.5M351.4 618.6V620.6M248.5 516.3H250.5M353.4 618.6V620.6M248.5 514.5H250.5M355.2 618.6V620.6M246.5 512.9H250.5M356.9 618.6V621.6M248.5 502.2H250.5M367.5 618.6V620.6M248.5 496.0H250.5M373.8 618.6V620.6M248.5 491.6H250.5M378.2 618.6V620.6M248.5 488.2H250.5M381.6 618.6V620.6M248.5 485.4H250.5M384.4 618.6V620.6M248.5 483.1H250.5M386.8 618.6V620.6M248.5 481.0H250.5M388.9 618.6V620.6M248.5 479.2H250.5M390.7 618.6V620.6M246.5 477.6H250.5M392.3 618.6V621.6" stroke="#333" stroke-width="0.8" fill="none"/>
<g font-family="Liberation Serif, serif" font-size="11.6" fill="#111">
<text x="244.4" y="624.2" text-anchor="end">1</text>
<text x="250.3" y="633.1" text-anchor="middle">1</text>
<text x="244.4" y="589.0" text-anchor="end">10</text>
<text x="285.6" y="633.1" text-anchor="middle">10</text>
<text x="244.4" y="553.7" text-anchor="end">100</text>
<text x="320.9" y="633.1" text-anchor="middle">100</text>
<text x="244.4" y="518.5" text-anchor="end">1000</text>
<text x="356.2" y="633.1" text-anchor="middle">1000</text>
<text x="244.4" y="483.2" text-anchor="end">10000</text>
<text x="391.5" y="633.1" text-anchor="middle">10000</text>
</g>
<g font-family="Liberation Serif, serif" font-size="14.2" fill="#000">
<text x="104.6" y="288.0">Male DC</text>
<text x="284.6" y="286.7">Male Spleen</text>
<text x="105.3" y="474.6">Male DC</text>
<text x="284.0" y="474.6">Male Spleen</text>
</g>
<g font-family="Liberation Sans, sans-serif" font-size="14.2" fill="#000" text-anchor="end">
<text x="200.9" y="305.7">18.6%</text>
<text x="389.5" y="305.2">0.34%</text>
<text x="201.5" y="492.0">10.4%</text>
<text x="391.0" y="492.4">17.5%</text>
</g>
<g font-family="Liberation Serif, serif" font-size="18.6" fill="#000">
<text x="398.8" y="345.2">Thymectomized</text>
<text x="399.0" y="366.8">T cell depleted</text>
<text x="398.2" y="543.8">Thymus-bearing</text>
<text x="399.4" y="565.4">T cell replete</text>
<text x="181.2" y="670.2" font-size="19">CD44 FITC</text>
<text transform="translate(15.2 459.2) rotate(-90)" text-anchor="middle">HY tetramer PE</text>
</g>
<text x="2.5" y="270.8" font-family="Liberation Sans, sans-serif" font-weight="bold" font-size="31.5">B</text>
<path d="M21.2 297V623.8" stroke="#000" stroke-width="2.2" fill="none"/>
<path d="M21.2 289.5L26.2 298.8L16.2 298.8Z" fill="#000"/>
<path d="M61.3 649.2H383" stroke="#000" stroke-width="2.2" fill="none"/>
<path d="M392.2 649.5L381.5 654.3L381.5 644.7Z" fill="#000"/>
<ellipse cx="330.8" cy="552.6" rx="2.2" ry="1.7" fill="#fff" stroke="#000" stroke-width="0.9"/>

</svg>
</body></html>
